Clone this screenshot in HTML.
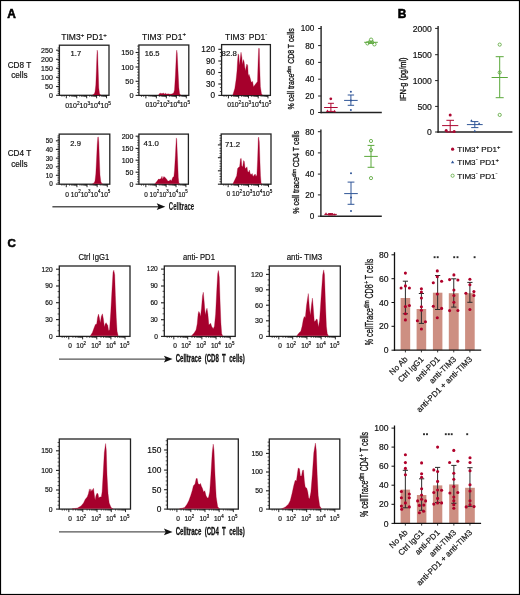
<!DOCTYPE html>
<html><head><meta charset="utf-8"><style>
html,body{margin:0;padding:0;background:#fff;}
svg{display:block;font-family:"Liberation Sans", sans-serif;will-change:transform;}
text{stroke:#111;stroke-width:0.18px;}
</style></head><body>
<svg width="520" height="595" viewBox="0 0 520 595">
<rect width="520" height="595" fill="#fff"/>
<rect x="0.5" y="0.5" width="519" height="594" fill="none" stroke="#000" stroke-width="1.2"/>
<text x="7.30" y="17.50" font-size="11.9" text-anchor="start" font-weight="bold" fill="#000" style="stroke:#000;stroke-width:0.55px">A</text>
<text x="397.80" y="17.90" font-size="11.9" text-anchor="start" font-weight="bold" fill="#000" style="stroke:#000;stroke-width:0.55px">B</text>
<text x="7.40" y="247.30" font-size="11.5" text-anchor="start" font-weight="bold" fill="#000" style="stroke:#000;stroke-width:0.55px">C</text>
<text x="84.00" y="40.00" font-size="8.5" text-anchor="middle" fill="#111">TIM3<tspan font-size="6.12" dy="-3.40">+</tspan><tspan dy="3.40"> PD1</tspan><tspan font-size="6.12" dy="-3.40">+</tspan></text>
<text x="164.00" y="39.80" font-size="8.5" text-anchor="middle" fill="#111">TIM3<tspan font-size="6.12" dy="-4.25">-</tspan><tspan dy="4.25"> PD1</tspan><tspan font-size="6.12" dy="-3.40">+</tspan></text>
<text x="246.20" y="39.80" font-size="8.5" text-anchor="middle" fill="#111">TIM3<tspan font-size="6.12" dy="-4.25">-</tspan><tspan dy="4.25"> PD1</tspan><tspan font-size="6.12" dy="-4.25">-</tspan></text>
<text x="19.40" y="67.80" font-size="8.2" text-anchor="middle" font-weight="normal" fill="#111" >CD8 T</text>
<text x="19.40" y="77.90" font-size="8.2" text-anchor="middle" font-weight="normal" fill="#111" >cells</text>
<text x="19.40" y="156.30" font-size="8.2" text-anchor="middle" font-weight="normal" fill="#111" >CD4 T</text>
<text x="19.40" y="166.50" font-size="8.2" text-anchor="middle" font-weight="normal" fill="#111" >cells</text>
<line x1="56.10" y1="50.20" x2="59.40" y2="50.20" stroke="#222" stroke-width="1.1"/>
<text x="52.80" y="52.72" font-size="7.0" text-anchor="end" font-weight="normal" fill="#111" >250</text>
<line x1="56.10" y1="59.30" x2="59.40" y2="59.30" stroke="#222" stroke-width="1.1"/>
<text x="52.80" y="61.82" font-size="7.0" text-anchor="end" font-weight="normal" fill="#111" >200</text>
<line x1="56.10" y1="68.30" x2="59.40" y2="68.30" stroke="#222" stroke-width="1.1"/>
<text x="52.80" y="70.82" font-size="7.0" text-anchor="end" font-weight="normal" fill="#111" >150</text>
<line x1="56.10" y1="77.30" x2="59.40" y2="77.30" stroke="#222" stroke-width="1.1"/>
<text x="52.80" y="79.82" font-size="7.0" text-anchor="end" font-weight="normal" fill="#111" >100</text>
<line x1="56.10" y1="86.50" x2="59.40" y2="86.50" stroke="#222" stroke-width="1.1"/>
<text x="52.80" y="89.02" font-size="7.0" text-anchor="end" font-weight="normal" fill="#111" >50</text>
<line x1="56.10" y1="95.30" x2="59.40" y2="95.30" stroke="#222" stroke-width="1.1"/>
<text x="52.80" y="97.82" font-size="7.0" text-anchor="end" font-weight="normal" fill="#111" >0</text>
<line x1="57.70" y1="93.48" x2="59.40" y2="93.48" stroke="#222" stroke-width="0.8"/>
<line x1="57.70" y1="91.66" x2="59.40" y2="91.66" stroke="#222" stroke-width="0.8"/>
<line x1="57.70" y1="89.84" x2="59.40" y2="89.84" stroke="#222" stroke-width="0.8"/>
<line x1="57.70" y1="88.02" x2="59.40" y2="88.02" stroke="#222" stroke-width="0.8"/>
<line x1="57.70" y1="84.38" x2="59.40" y2="84.38" stroke="#222" stroke-width="0.8"/>
<line x1="57.70" y1="82.56" x2="59.40" y2="82.56" stroke="#222" stroke-width="0.8"/>
<line x1="57.70" y1="80.74" x2="59.40" y2="80.74" stroke="#222" stroke-width="0.8"/>
<line x1="57.70" y1="78.92" x2="59.40" y2="78.92" stroke="#222" stroke-width="0.8"/>
<line x1="57.70" y1="75.28" x2="59.40" y2="75.28" stroke="#222" stroke-width="0.8"/>
<line x1="57.70" y1="73.46" x2="59.40" y2="73.46" stroke="#222" stroke-width="0.8"/>
<line x1="57.70" y1="71.64" x2="59.40" y2="71.64" stroke="#222" stroke-width="0.8"/>
<line x1="57.70" y1="69.82" x2="59.40" y2="69.82" stroke="#222" stroke-width="0.8"/>
<line x1="57.70" y1="66.18" x2="59.40" y2="66.18" stroke="#222" stroke-width="0.8"/>
<line x1="57.70" y1="64.36" x2="59.40" y2="64.36" stroke="#222" stroke-width="0.8"/>
<line x1="57.70" y1="62.54" x2="59.40" y2="62.54" stroke="#222" stroke-width="0.8"/>
<line x1="57.70" y1="60.72" x2="59.40" y2="60.72" stroke="#222" stroke-width="0.8"/>
<line x1="57.70" y1="57.08" x2="59.40" y2="57.08" stroke="#222" stroke-width="0.8"/>
<line x1="57.70" y1="55.26" x2="59.40" y2="55.26" stroke="#222" stroke-width="0.8"/>
<line x1="57.70" y1="53.44" x2="59.40" y2="53.44" stroke="#222" stroke-width="0.8"/>
<line x1="57.70" y1="51.62" x2="59.40" y2="51.62" stroke="#222" stroke-width="0.8"/>
<line x1="57.70" y1="47.98" x2="59.40" y2="47.98" stroke="#222" stroke-width="0.8"/>
<rect x="59.40" y="45.20" width="49.60" height="50.10" fill="none" stroke="#222" stroke-width="1.3"/>
<line x1="135.60" y1="52.50" x2="138.90" y2="52.50" stroke="#222" stroke-width="1.1"/>
<text x="133.60" y="55.16" font-size="7.4" text-anchor="end" font-weight="normal" fill="#111" >150</text>
<line x1="135.60" y1="67.00" x2="138.90" y2="67.00" stroke="#222" stroke-width="1.1"/>
<text x="133.60" y="69.66" font-size="7.4" text-anchor="end" font-weight="normal" fill="#111" >100</text>
<line x1="135.60" y1="81.30" x2="138.90" y2="81.30" stroke="#222" stroke-width="1.1"/>
<text x="133.60" y="83.96" font-size="7.4" text-anchor="end" font-weight="normal" fill="#111" >50</text>
<line x1="135.60" y1="95.40" x2="138.90" y2="95.40" stroke="#222" stroke-width="1.1"/>
<text x="133.60" y="98.06" font-size="7.4" text-anchor="end" font-weight="normal" fill="#111" >0</text>
<line x1="137.20" y1="92.50" x2="138.90" y2="92.50" stroke="#222" stroke-width="0.8"/>
<line x1="137.20" y1="89.60" x2="138.90" y2="89.60" stroke="#222" stroke-width="0.8"/>
<line x1="137.20" y1="86.70" x2="138.90" y2="86.70" stroke="#222" stroke-width="0.8"/>
<line x1="137.20" y1="83.80" x2="138.90" y2="83.80" stroke="#222" stroke-width="0.8"/>
<line x1="137.20" y1="78.00" x2="138.90" y2="78.00" stroke="#222" stroke-width="0.8"/>
<line x1="137.20" y1="75.10" x2="138.90" y2="75.10" stroke="#222" stroke-width="0.8"/>
<line x1="137.20" y1="72.20" x2="138.90" y2="72.20" stroke="#222" stroke-width="0.8"/>
<line x1="137.20" y1="69.30" x2="138.90" y2="69.30" stroke="#222" stroke-width="0.8"/>
<line x1="137.20" y1="63.50" x2="138.90" y2="63.50" stroke="#222" stroke-width="0.8"/>
<line x1="137.20" y1="60.60" x2="138.90" y2="60.60" stroke="#222" stroke-width="0.8"/>
<line x1="137.20" y1="57.70" x2="138.90" y2="57.70" stroke="#222" stroke-width="0.8"/>
<line x1="137.20" y1="54.80" x2="138.90" y2="54.80" stroke="#222" stroke-width="0.8"/>
<line x1="137.20" y1="49.00" x2="138.90" y2="49.00" stroke="#222" stroke-width="0.8"/>
<line x1="137.20" y1="46.10" x2="138.90" y2="46.10" stroke="#222" stroke-width="0.8"/>
<rect x="138.90" y="45.00" width="49.90" height="50.40" fill="none" stroke="#222" stroke-width="1.3"/>
<line x1="218.30" y1="49.30" x2="221.60" y2="49.30" stroke="#222" stroke-width="1.1"/>
<text x="215.00" y="52.25" font-size="8.2" text-anchor="end" font-weight="normal" fill="#111" >120</text>
<line x1="218.30" y1="61.00" x2="221.60" y2="61.00" stroke="#222" stroke-width="1.1"/>
<text x="215.00" y="63.95" font-size="8.2" text-anchor="end" font-weight="normal" fill="#111" >90</text>
<line x1="218.30" y1="72.50" x2="221.60" y2="72.50" stroke="#222" stroke-width="1.1"/>
<text x="215.00" y="75.45" font-size="8.2" text-anchor="end" font-weight="normal" fill="#111" >60</text>
<line x1="218.30" y1="84.00" x2="221.60" y2="84.00" stroke="#222" stroke-width="1.1"/>
<text x="215.00" y="86.95" font-size="8.2" text-anchor="end" font-weight="normal" fill="#111" >30</text>
<line x1="218.30" y1="95.40" x2="221.60" y2="95.40" stroke="#222" stroke-width="1.1"/>
<text x="215.00" y="98.35" font-size="8.2" text-anchor="end" font-weight="normal" fill="#111" >0</text>
<line x1="219.90" y1="91.50" x2="221.60" y2="91.50" stroke="#222" stroke-width="0.8"/>
<line x1="219.90" y1="87.60" x2="221.60" y2="87.60" stroke="#222" stroke-width="0.8"/>
<line x1="219.90" y1="79.80" x2="221.60" y2="79.80" stroke="#222" stroke-width="0.8"/>
<line x1="219.90" y1="75.90" x2="221.60" y2="75.90" stroke="#222" stroke-width="0.8"/>
<line x1="219.90" y1="68.10" x2="221.60" y2="68.10" stroke="#222" stroke-width="0.8"/>
<line x1="219.90" y1="64.20" x2="221.60" y2="64.20" stroke="#222" stroke-width="0.8"/>
<line x1="219.90" y1="56.40" x2="221.60" y2="56.40" stroke="#222" stroke-width="0.8"/>
<line x1="219.90" y1="52.50" x2="221.60" y2="52.50" stroke="#222" stroke-width="0.8"/>
<rect x="221.60" y="44.60" width="48.80" height="50.80" fill="none" stroke="#222" stroke-width="1.3"/>
<line x1="55.90" y1="140.80" x2="59.20" y2="140.80" stroke="#222" stroke-width="1.1"/>
<text x="52.80" y="143.10" font-size="6.4" text-anchor="end" font-weight="normal" fill="#111" >50</text>
<line x1="55.90" y1="149.40" x2="59.20" y2="149.40" stroke="#222" stroke-width="1.1"/>
<text x="52.80" y="151.70" font-size="6.4" text-anchor="end" font-weight="normal" fill="#111" >40</text>
<line x1="55.90" y1="158.20" x2="59.20" y2="158.20" stroke="#222" stroke-width="1.1"/>
<text x="52.80" y="160.50" font-size="6.4" text-anchor="end" font-weight="normal" fill="#111" >30</text>
<line x1="55.90" y1="166.80" x2="59.20" y2="166.80" stroke="#222" stroke-width="1.1"/>
<text x="52.80" y="169.10" font-size="6.4" text-anchor="end" font-weight="normal" fill="#111" >20</text>
<line x1="55.90" y1="175.30" x2="59.20" y2="175.30" stroke="#222" stroke-width="1.1"/>
<text x="52.80" y="177.60" font-size="6.4" text-anchor="end" font-weight="normal" fill="#111" >10</text>
<line x1="55.90" y1="184.10" x2="59.20" y2="184.10" stroke="#222" stroke-width="1.1"/>
<text x="52.80" y="186.40" font-size="6.4" text-anchor="end" font-weight="normal" fill="#111" >0</text>
<line x1="57.50" y1="182.38" x2="59.20" y2="182.38" stroke="#222" stroke-width="0.8"/>
<line x1="57.50" y1="180.66" x2="59.20" y2="180.66" stroke="#222" stroke-width="0.8"/>
<line x1="57.50" y1="178.94" x2="59.20" y2="178.94" stroke="#222" stroke-width="0.8"/>
<line x1="57.50" y1="177.22" x2="59.20" y2="177.22" stroke="#222" stroke-width="0.8"/>
<line x1="57.50" y1="173.78" x2="59.20" y2="173.78" stroke="#222" stroke-width="0.8"/>
<line x1="57.50" y1="172.06" x2="59.20" y2="172.06" stroke="#222" stroke-width="0.8"/>
<line x1="57.50" y1="170.34" x2="59.20" y2="170.34" stroke="#222" stroke-width="0.8"/>
<line x1="57.50" y1="168.62" x2="59.20" y2="168.62" stroke="#222" stroke-width="0.8"/>
<line x1="57.50" y1="165.18" x2="59.20" y2="165.18" stroke="#222" stroke-width="0.8"/>
<line x1="57.50" y1="163.46" x2="59.20" y2="163.46" stroke="#222" stroke-width="0.8"/>
<line x1="57.50" y1="161.74" x2="59.20" y2="161.74" stroke="#222" stroke-width="0.8"/>
<line x1="57.50" y1="160.02" x2="59.20" y2="160.02" stroke="#222" stroke-width="0.8"/>
<line x1="57.50" y1="156.58" x2="59.20" y2="156.58" stroke="#222" stroke-width="0.8"/>
<line x1="57.50" y1="154.86" x2="59.20" y2="154.86" stroke="#222" stroke-width="0.8"/>
<line x1="57.50" y1="153.14" x2="59.20" y2="153.14" stroke="#222" stroke-width="0.8"/>
<line x1="57.50" y1="151.42" x2="59.20" y2="151.42" stroke="#222" stroke-width="0.8"/>
<line x1="57.50" y1="147.98" x2="59.20" y2="147.98" stroke="#222" stroke-width="0.8"/>
<line x1="57.50" y1="146.26" x2="59.20" y2="146.26" stroke="#222" stroke-width="0.8"/>
<line x1="57.50" y1="144.54" x2="59.20" y2="144.54" stroke="#222" stroke-width="0.8"/>
<line x1="57.50" y1="142.82" x2="59.20" y2="142.82" stroke="#222" stroke-width="0.8"/>
<line x1="57.50" y1="139.38" x2="59.20" y2="139.38" stroke="#222" stroke-width="0.8"/>
<line x1="57.50" y1="137.66" x2="59.20" y2="137.66" stroke="#222" stroke-width="0.8"/>
<line x1="57.50" y1="135.94" x2="59.20" y2="135.94" stroke="#222" stroke-width="0.8"/>
<rect x="59.20" y="134.10" width="50.60" height="50.10" fill="none" stroke="#222" stroke-width="1.3"/>
<line x1="135.60" y1="136.20" x2="138.90" y2="136.20" stroke="#222" stroke-width="1.1"/>
<text x="133.40" y="138.72" font-size="7.0" text-anchor="end" font-weight="normal" fill="#111" >200</text>
<line x1="135.60" y1="148.40" x2="138.90" y2="148.40" stroke="#222" stroke-width="1.1"/>
<text x="133.40" y="150.92" font-size="7.0" text-anchor="end" font-weight="normal" fill="#111" >150</text>
<line x1="135.60" y1="160.20" x2="138.90" y2="160.20" stroke="#222" stroke-width="1.1"/>
<text x="133.40" y="162.72" font-size="7.0" text-anchor="end" font-weight="normal" fill="#111" >100</text>
<line x1="135.60" y1="172.20" x2="138.90" y2="172.20" stroke="#222" stroke-width="1.1"/>
<text x="133.40" y="174.72" font-size="7.0" text-anchor="end" font-weight="normal" fill="#111" >50</text>
<line x1="135.60" y1="184.20" x2="138.90" y2="184.20" stroke="#222" stroke-width="1.1"/>
<text x="133.40" y="186.72" font-size="7.0" text-anchor="end" font-weight="normal" fill="#111" >0</text>
<line x1="137.20" y1="181.76" x2="138.90" y2="181.76" stroke="#222" stroke-width="0.8"/>
<line x1="137.20" y1="179.32" x2="138.90" y2="179.32" stroke="#222" stroke-width="0.8"/>
<line x1="137.20" y1="176.88" x2="138.90" y2="176.88" stroke="#222" stroke-width="0.8"/>
<line x1="137.20" y1="174.44" x2="138.90" y2="174.44" stroke="#222" stroke-width="0.8"/>
<line x1="137.20" y1="169.56" x2="138.90" y2="169.56" stroke="#222" stroke-width="0.8"/>
<line x1="137.20" y1="167.12" x2="138.90" y2="167.12" stroke="#222" stroke-width="0.8"/>
<line x1="137.20" y1="164.68" x2="138.90" y2="164.68" stroke="#222" stroke-width="0.8"/>
<line x1="137.20" y1="162.24" x2="138.90" y2="162.24" stroke="#222" stroke-width="0.8"/>
<line x1="137.20" y1="157.36" x2="138.90" y2="157.36" stroke="#222" stroke-width="0.8"/>
<line x1="137.20" y1="154.92" x2="138.90" y2="154.92" stroke="#222" stroke-width="0.8"/>
<line x1="137.20" y1="152.48" x2="138.90" y2="152.48" stroke="#222" stroke-width="0.8"/>
<line x1="137.20" y1="150.04" x2="138.90" y2="150.04" stroke="#222" stroke-width="0.8"/>
<line x1="137.20" y1="145.16" x2="138.90" y2="145.16" stroke="#222" stroke-width="0.8"/>
<line x1="137.20" y1="142.72" x2="138.90" y2="142.72" stroke="#222" stroke-width="0.8"/>
<line x1="137.20" y1="140.28" x2="138.90" y2="140.28" stroke="#222" stroke-width="0.8"/>
<line x1="137.20" y1="137.84" x2="138.90" y2="137.84" stroke="#222" stroke-width="0.8"/>
<rect x="138.90" y="134.10" width="49.50" height="50.10" fill="none" stroke="#222" stroke-width="1.3"/>
<line x1="217.90" y1="144.90" x2="221.20" y2="144.90" stroke="#222" stroke-width="1.1"/>
<line x1="217.90" y1="157.70" x2="221.20" y2="157.70" stroke="#222" stroke-width="1.1"/>
<line x1="217.90" y1="170.80" x2="221.20" y2="170.80" stroke="#222" stroke-width="1.1"/>
<line x1="217.90" y1="184.20" x2="221.20" y2="184.20" stroke="#222" stroke-width="1.1"/>
<line x1="219.50" y1="181.64" x2="221.20" y2="181.64" stroke="#222" stroke-width="0.8"/>
<line x1="219.50" y1="179.08" x2="221.20" y2="179.08" stroke="#222" stroke-width="0.8"/>
<line x1="219.50" y1="176.52" x2="221.20" y2="176.52" stroke="#222" stroke-width="0.8"/>
<line x1="219.50" y1="173.96" x2="221.20" y2="173.96" stroke="#222" stroke-width="0.8"/>
<line x1="219.50" y1="168.84" x2="221.20" y2="168.84" stroke="#222" stroke-width="0.8"/>
<line x1="219.50" y1="166.28" x2="221.20" y2="166.28" stroke="#222" stroke-width="0.8"/>
<line x1="219.50" y1="163.72" x2="221.20" y2="163.72" stroke="#222" stroke-width="0.8"/>
<line x1="219.50" y1="161.16" x2="221.20" y2="161.16" stroke="#222" stroke-width="0.8"/>
<line x1="219.50" y1="156.04" x2="221.20" y2="156.04" stroke="#222" stroke-width="0.8"/>
<line x1="219.50" y1="153.48" x2="221.20" y2="153.48" stroke="#222" stroke-width="0.8"/>
<line x1="219.50" y1="150.92" x2="221.20" y2="150.92" stroke="#222" stroke-width="0.8"/>
<line x1="219.50" y1="148.36" x2="221.20" y2="148.36" stroke="#222" stroke-width="0.8"/>
<line x1="219.50" y1="143.24" x2="221.20" y2="143.24" stroke="#222" stroke-width="0.8"/>
<line x1="219.50" y1="140.68" x2="221.20" y2="140.68" stroke="#222" stroke-width="0.8"/>
<line x1="219.50" y1="138.12" x2="221.20" y2="138.12" stroke="#222" stroke-width="0.8"/>
<line x1="219.50" y1="135.56" x2="221.20" y2="135.56" stroke="#222" stroke-width="0.8"/>
<rect x="221.20" y="134.00" width="49.80" height="50.20" fill="none" stroke="#222" stroke-width="1.3"/>
<path d="M92.50,95.00 L92.50,95.00 L94.00,94.20 L95.00,92.00 L95.80,85.00 L96.40,70.00 L96.90,55.00 L97.20,50.10 L97.60,52.00 L98.20,70.00 L98.80,88.00 L99.50,93.50 L100.50,95.00 L100.50,95.00 Z" fill="#a6002c" stroke="#a6002c" stroke-width="0.3" stroke-linejoin="round"/>
<path d="M158.50,95.00 L158.50,95.20 L159.50,93.60 L160.80,93.20 L162.00,93.80 L163.20,93.00 L164.50,93.90 L165.50,93.30 L166.80,94.20 L168.00,93.80 L170.00,94.20 L171.50,94.00 L173.00,93.60 L173.80,92.50 L174.50,90.00 L175.40,75.00 L176.30,55.00 L176.70,50.10 L177.20,53.00 L178.00,70.00 L178.90,88.00 L179.60,93.50 L180.60,95.20 L180.60,95.00 Z" fill="#a6002c" stroke="#a6002c" stroke-width="0.3" stroke-linejoin="round"/>
<path d="M232.80,95.00 L232.80,95.00 L234.80,88.50 L236.10,79.60 L237.00,70.70 L237.50,61.80 L238.20,53.80 L238.80,55.60 L239.40,65.40 L241.00,52.20 L241.90,57.40 L242.40,64.50 L243.40,59.60 L244.10,61.80 L245.30,70.70 L246.80,64.00 L247.70,65.40 L248.30,76.10 L249.00,74.30 L250.10,77.80 L251.30,82.30 L252.60,81.40 L253.50,86.70 L254.80,85.00 L256.60,82.70 L257.50,81.40 L258.10,61.80 L258.70,48.30 L259.30,48.50 L259.70,66.30 L260.40,86.70 L261.50,93.90 L262.40,95.00 L262.40,95.00 Z" fill="#a6002c" stroke="#a6002c" stroke-width="0.3" stroke-linejoin="round"/>
<path d="M92.50,183.80 L92.50,183.90 L94.00,183.00 L95.00,181.00 L95.80,174.00 L96.50,160.00 L97.20,145.00 L97.80,137.20 L98.30,136.90 L98.80,142.00 L99.40,160.00 L100.00,175.00 L100.80,181.50 L101.60,183.20 L102.50,183.90 L102.50,183.80 Z" fill="#a6002c" stroke="#a6002c" stroke-width="0.3" stroke-linejoin="round"/>
<path d="M154.90,183.80 L154.90,183.80 L157.10,181.10 L158.50,179.10 L159.80,179.30 L161.10,178.40 L162.00,176.20 L162.60,179.30 L163.80,176.60 L165.10,177.50 L166.50,178.90 L167.80,181.10 L169.10,181.10 L170.30,179.70 L171.40,181.10 L172.70,177.50 L173.90,176.60 L174.50,170.40 L175.40,155.30 L176.30,137.90 L176.70,139.20 L177.60,159.70 L178.30,177.50 L178.90,182.90 L179.80,183.80 L179.80,183.80 Z" fill="#a6002c" stroke="#a6002c" stroke-width="0.3" stroke-linejoin="round"/>
<path d="M232.90,183.80 L232.90,183.80 L235.10,179.30 L236.70,175.70 L237.60,168.60 L238.70,167.30 L239.60,166.80 L240.50,158.80 L241.20,158.40 L241.80,166.00 L242.70,166.80 L243.60,160.60 L244.30,161.50 L245.10,168.60 L246.30,167.70 L247.00,166.80 L247.60,171.30 L248.70,172.20 L249.40,170.00 L250.30,174.00 L251.30,174.40 L252.20,173.50 L253.10,176.60 L254.30,174.90 L255.20,174.00 L256.00,176.60 L256.90,174.90 L257.60,159.70 L258.30,138.30 L258.70,137.00 L259.30,141.90 L259.90,159.70 L260.50,175.70 L261.10,182.90 L261.80,183.80 L261.80,183.80 Z" fill="#a6002c" stroke="#a6002c" stroke-width="0.3" stroke-linejoin="round"/>
<text x="70.60" y="56.20" font-size="7.6" text-anchor="start" font-weight="normal" fill="#111" >1.7</text>
<text x="144.80" y="55.60" font-size="7.6" text-anchor="start" font-weight="normal" fill="#111" >16.5</text>
<text x="221.60" y="55.80" font-size="7.8" text-anchor="start" font-weight="normal" fill="#111" >82.8</text>
<text x="70.30" y="145.50" font-size="7.6" text-anchor="start" font-weight="normal" fill="#111" >2.9</text>
<text x="143.60" y="146.00" font-size="7.8" text-anchor="start" font-weight="normal" fill="#111" >41.0</text>
<text x="225.00" y="147.40" font-size="7.8" text-anchor="start" font-weight="normal" fill="#111" >71.2</text>
<line x1="66.34" y1="95.30" x2="66.34" y2="98.30" stroke="#111" stroke-width="0.9"/>
<line x1="76.76" y1="95.30" x2="76.76" y2="98.30" stroke="#111" stroke-width="0.9"/>
<line x1="86.68" y1="95.30" x2="86.68" y2="98.30" stroke="#111" stroke-width="0.9"/>
<line x1="96.60" y1="95.30" x2="96.60" y2="98.30" stroke="#111" stroke-width="0.9"/>
<line x1="106.52" y1="95.30" x2="106.52" y2="98.30" stroke="#111" stroke-width="0.9"/>
<line x1="69.48" y1="95.30" x2="69.48" y2="96.90" stroke="#111" stroke-width="0.6"/>
<line x1="71.31" y1="95.30" x2="71.31" y2="96.90" stroke="#111" stroke-width="0.6"/>
<line x1="72.62" y1="95.30" x2="72.62" y2="96.90" stroke="#111" stroke-width="0.6"/>
<line x1="73.62" y1="95.30" x2="73.62" y2="96.90" stroke="#111" stroke-width="0.6"/>
<line x1="74.45" y1="95.30" x2="74.45" y2="96.90" stroke="#111" stroke-width="0.6"/>
<line x1="75.15" y1="95.30" x2="75.15" y2="96.90" stroke="#111" stroke-width="0.6"/>
<line x1="75.75" y1="95.30" x2="75.75" y2="96.90" stroke="#111" stroke-width="0.6"/>
<line x1="76.28" y1="95.30" x2="76.28" y2="96.90" stroke="#111" stroke-width="0.6"/>
<line x1="79.75" y1="95.30" x2="79.75" y2="96.90" stroke="#111" stroke-width="0.6"/>
<line x1="81.49" y1="95.30" x2="81.49" y2="96.90" stroke="#111" stroke-width="0.6"/>
<line x1="82.73" y1="95.30" x2="82.73" y2="96.90" stroke="#111" stroke-width="0.6"/>
<line x1="83.69" y1="95.30" x2="83.69" y2="96.90" stroke="#111" stroke-width="0.6"/>
<line x1="84.48" y1="95.30" x2="84.48" y2="96.90" stroke="#111" stroke-width="0.6"/>
<line x1="85.14" y1="95.30" x2="85.14" y2="96.90" stroke="#111" stroke-width="0.6"/>
<line x1="85.72" y1="95.30" x2="85.72" y2="96.90" stroke="#111" stroke-width="0.6"/>
<line x1="86.23" y1="95.30" x2="86.23" y2="96.90" stroke="#111" stroke-width="0.6"/>
<line x1="89.67" y1="95.30" x2="89.67" y2="96.90" stroke="#111" stroke-width="0.6"/>
<line x1="91.41" y1="95.30" x2="91.41" y2="96.90" stroke="#111" stroke-width="0.6"/>
<line x1="92.65" y1="95.30" x2="92.65" y2="96.90" stroke="#111" stroke-width="0.6"/>
<line x1="93.61" y1="95.30" x2="93.61" y2="96.90" stroke="#111" stroke-width="0.6"/>
<line x1="94.40" y1="95.30" x2="94.40" y2="96.90" stroke="#111" stroke-width="0.6"/>
<line x1="95.06" y1="95.30" x2="95.06" y2="96.90" stroke="#111" stroke-width="0.6"/>
<line x1="95.64" y1="95.30" x2="95.64" y2="96.90" stroke="#111" stroke-width="0.6"/>
<line x1="96.15" y1="95.30" x2="96.15" y2="96.90" stroke="#111" stroke-width="0.6"/>
<line x1="99.59" y1="95.30" x2="99.59" y2="96.90" stroke="#111" stroke-width="0.6"/>
<line x1="101.33" y1="95.30" x2="101.33" y2="96.90" stroke="#111" stroke-width="0.6"/>
<line x1="102.57" y1="95.30" x2="102.57" y2="96.90" stroke="#111" stroke-width="0.6"/>
<line x1="103.53" y1="95.30" x2="103.53" y2="96.90" stroke="#111" stroke-width="0.6"/>
<line x1="104.32" y1="95.30" x2="104.32" y2="96.90" stroke="#111" stroke-width="0.6"/>
<line x1="104.98" y1="95.30" x2="104.98" y2="96.90" stroke="#111" stroke-width="0.6"/>
<line x1="105.56" y1="95.30" x2="105.56" y2="96.90" stroke="#111" stroke-width="0.6"/>
<line x1="106.07" y1="95.30" x2="106.07" y2="96.90" stroke="#111" stroke-width="0.6"/>
<line x1="64.14" y1="95.30" x2="64.14" y2="96.90" stroke="#111" stroke-width="0.6"/>
<line x1="61.94" y1="95.30" x2="61.94" y2="96.90" stroke="#111" stroke-width="0.6"/>
<line x1="145.89" y1="95.40" x2="145.89" y2="98.40" stroke="#111" stroke-width="0.9"/>
<line x1="156.37" y1="95.40" x2="156.37" y2="98.40" stroke="#111" stroke-width="0.9"/>
<line x1="166.34" y1="95.40" x2="166.34" y2="98.40" stroke="#111" stroke-width="0.9"/>
<line x1="176.33" y1="95.40" x2="176.33" y2="98.40" stroke="#111" stroke-width="0.9"/>
<line x1="186.31" y1="95.40" x2="186.31" y2="98.40" stroke="#111" stroke-width="0.9"/>
<line x1="149.04" y1="95.40" x2="149.04" y2="97.00" stroke="#111" stroke-width="0.6"/>
<line x1="150.89" y1="95.40" x2="150.89" y2="97.00" stroke="#111" stroke-width="0.6"/>
<line x1="152.19" y1="95.40" x2="152.19" y2="97.00" stroke="#111" stroke-width="0.6"/>
<line x1="153.21" y1="95.40" x2="153.21" y2="97.00" stroke="#111" stroke-width="0.6"/>
<line x1="154.04" y1="95.40" x2="154.04" y2="97.00" stroke="#111" stroke-width="0.6"/>
<line x1="154.74" y1="95.40" x2="154.74" y2="97.00" stroke="#111" stroke-width="0.6"/>
<line x1="155.35" y1="95.40" x2="155.35" y2="97.00" stroke="#111" stroke-width="0.6"/>
<line x1="155.89" y1="95.40" x2="155.89" y2="97.00" stroke="#111" stroke-width="0.6"/>
<line x1="159.37" y1="95.40" x2="159.37" y2="97.00" stroke="#111" stroke-width="0.6"/>
<line x1="161.13" y1="95.40" x2="161.13" y2="97.00" stroke="#111" stroke-width="0.6"/>
<line x1="162.37" y1="95.40" x2="162.37" y2="97.00" stroke="#111" stroke-width="0.6"/>
<line x1="163.34" y1="95.40" x2="163.34" y2="97.00" stroke="#111" stroke-width="0.6"/>
<line x1="164.13" y1="95.40" x2="164.13" y2="97.00" stroke="#111" stroke-width="0.6"/>
<line x1="164.80" y1="95.40" x2="164.80" y2="97.00" stroke="#111" stroke-width="0.6"/>
<line x1="165.38" y1="95.40" x2="165.38" y2="97.00" stroke="#111" stroke-width="0.6"/>
<line x1="165.89" y1="95.40" x2="165.89" y2="97.00" stroke="#111" stroke-width="0.6"/>
<line x1="169.35" y1="95.40" x2="169.35" y2="97.00" stroke="#111" stroke-width="0.6"/>
<line x1="171.11" y1="95.40" x2="171.11" y2="97.00" stroke="#111" stroke-width="0.6"/>
<line x1="172.35" y1="95.40" x2="172.35" y2="97.00" stroke="#111" stroke-width="0.6"/>
<line x1="173.32" y1="95.40" x2="173.32" y2="97.00" stroke="#111" stroke-width="0.6"/>
<line x1="174.11" y1="95.40" x2="174.11" y2="97.00" stroke="#111" stroke-width="0.6"/>
<line x1="174.78" y1="95.40" x2="174.78" y2="97.00" stroke="#111" stroke-width="0.6"/>
<line x1="175.36" y1="95.40" x2="175.36" y2="97.00" stroke="#111" stroke-width="0.6"/>
<line x1="175.87" y1="95.40" x2="175.87" y2="97.00" stroke="#111" stroke-width="0.6"/>
<line x1="179.33" y1="95.40" x2="179.33" y2="97.00" stroke="#111" stroke-width="0.6"/>
<line x1="181.09" y1="95.40" x2="181.09" y2="97.00" stroke="#111" stroke-width="0.6"/>
<line x1="182.33" y1="95.40" x2="182.33" y2="97.00" stroke="#111" stroke-width="0.6"/>
<line x1="183.30" y1="95.40" x2="183.30" y2="97.00" stroke="#111" stroke-width="0.6"/>
<line x1="184.09" y1="95.40" x2="184.09" y2="97.00" stroke="#111" stroke-width="0.6"/>
<line x1="184.76" y1="95.40" x2="184.76" y2="97.00" stroke="#111" stroke-width="0.6"/>
<line x1="185.34" y1="95.40" x2="185.34" y2="97.00" stroke="#111" stroke-width="0.6"/>
<line x1="185.85" y1="95.40" x2="185.85" y2="97.00" stroke="#111" stroke-width="0.6"/>
<line x1="143.69" y1="95.40" x2="143.69" y2="97.00" stroke="#111" stroke-width="0.6"/>
<line x1="141.49" y1="95.40" x2="141.49" y2="97.00" stroke="#111" stroke-width="0.6"/>
<line x1="228.43" y1="95.40" x2="228.43" y2="98.40" stroke="#111" stroke-width="0.9"/>
<line x1="238.68" y1="95.40" x2="238.68" y2="98.40" stroke="#111" stroke-width="0.9"/>
<line x1="248.44" y1="95.40" x2="248.44" y2="98.40" stroke="#111" stroke-width="0.9"/>
<line x1="258.20" y1="95.40" x2="258.20" y2="98.40" stroke="#111" stroke-width="0.9"/>
<line x1="267.96" y1="95.40" x2="267.96" y2="98.40" stroke="#111" stroke-width="0.9"/>
<line x1="231.52" y1="95.40" x2="231.52" y2="97.00" stroke="#111" stroke-width="0.6"/>
<line x1="233.32" y1="95.40" x2="233.32" y2="97.00" stroke="#111" stroke-width="0.6"/>
<line x1="234.60" y1="95.40" x2="234.60" y2="97.00" stroke="#111" stroke-width="0.6"/>
<line x1="235.60" y1="95.40" x2="235.60" y2="97.00" stroke="#111" stroke-width="0.6"/>
<line x1="236.41" y1="95.40" x2="236.41" y2="97.00" stroke="#111" stroke-width="0.6"/>
<line x1="237.09" y1="95.40" x2="237.09" y2="97.00" stroke="#111" stroke-width="0.6"/>
<line x1="237.69" y1="95.40" x2="237.69" y2="97.00" stroke="#111" stroke-width="0.6"/>
<line x1="238.21" y1="95.40" x2="238.21" y2="97.00" stroke="#111" stroke-width="0.6"/>
<line x1="241.62" y1="95.40" x2="241.62" y2="97.00" stroke="#111" stroke-width="0.6"/>
<line x1="243.34" y1="95.40" x2="243.34" y2="97.00" stroke="#111" stroke-width="0.6"/>
<line x1="244.56" y1="95.40" x2="244.56" y2="97.00" stroke="#111" stroke-width="0.6"/>
<line x1="245.50" y1="95.40" x2="245.50" y2="97.00" stroke="#111" stroke-width="0.6"/>
<line x1="246.27" y1="95.40" x2="246.27" y2="97.00" stroke="#111" stroke-width="0.6"/>
<line x1="246.93" y1="95.40" x2="246.93" y2="97.00" stroke="#111" stroke-width="0.6"/>
<line x1="247.49" y1="95.40" x2="247.49" y2="97.00" stroke="#111" stroke-width="0.6"/>
<line x1="247.99" y1="95.40" x2="247.99" y2="97.00" stroke="#111" stroke-width="0.6"/>
<line x1="251.38" y1="95.40" x2="251.38" y2="97.00" stroke="#111" stroke-width="0.6"/>
<line x1="253.10" y1="95.40" x2="253.10" y2="97.00" stroke="#111" stroke-width="0.6"/>
<line x1="254.32" y1="95.40" x2="254.32" y2="97.00" stroke="#111" stroke-width="0.6"/>
<line x1="255.26" y1="95.40" x2="255.26" y2="97.00" stroke="#111" stroke-width="0.6"/>
<line x1="256.03" y1="95.40" x2="256.03" y2="97.00" stroke="#111" stroke-width="0.6"/>
<line x1="256.69" y1="95.40" x2="256.69" y2="97.00" stroke="#111" stroke-width="0.6"/>
<line x1="257.25" y1="95.40" x2="257.25" y2="97.00" stroke="#111" stroke-width="0.6"/>
<line x1="257.75" y1="95.40" x2="257.75" y2="97.00" stroke="#111" stroke-width="0.6"/>
<line x1="261.14" y1="95.40" x2="261.14" y2="97.00" stroke="#111" stroke-width="0.6"/>
<line x1="262.86" y1="95.40" x2="262.86" y2="97.00" stroke="#111" stroke-width="0.6"/>
<line x1="264.08" y1="95.40" x2="264.08" y2="97.00" stroke="#111" stroke-width="0.6"/>
<line x1="265.02" y1="95.40" x2="265.02" y2="97.00" stroke="#111" stroke-width="0.6"/>
<line x1="265.79" y1="95.40" x2="265.79" y2="97.00" stroke="#111" stroke-width="0.6"/>
<line x1="266.45" y1="95.40" x2="266.45" y2="97.00" stroke="#111" stroke-width="0.6"/>
<line x1="267.01" y1="95.40" x2="267.01" y2="97.00" stroke="#111" stroke-width="0.6"/>
<line x1="267.51" y1="95.40" x2="267.51" y2="97.00" stroke="#111" stroke-width="0.6"/>
<line x1="226.23" y1="95.40" x2="226.23" y2="97.00" stroke="#111" stroke-width="0.6"/>
<line x1="224.03" y1="95.40" x2="224.03" y2="97.00" stroke="#111" stroke-width="0.6"/>
<line x1="66.28" y1="184.20" x2="66.28" y2="187.20" stroke="#111" stroke-width="0.9"/>
<line x1="76.91" y1="184.20" x2="76.91" y2="187.20" stroke="#111" stroke-width="0.9"/>
<line x1="87.03" y1="184.20" x2="87.03" y2="187.20" stroke="#111" stroke-width="0.9"/>
<line x1="97.15" y1="184.20" x2="97.15" y2="187.20" stroke="#111" stroke-width="0.9"/>
<line x1="107.27" y1="184.20" x2="107.27" y2="187.20" stroke="#111" stroke-width="0.9"/>
<line x1="69.48" y1="184.20" x2="69.48" y2="185.80" stroke="#111" stroke-width="0.6"/>
<line x1="71.35" y1="184.20" x2="71.35" y2="185.80" stroke="#111" stroke-width="0.6"/>
<line x1="72.68" y1="184.20" x2="72.68" y2="185.80" stroke="#111" stroke-width="0.6"/>
<line x1="73.71" y1="184.20" x2="73.71" y2="185.80" stroke="#111" stroke-width="0.6"/>
<line x1="74.55" y1="184.20" x2="74.55" y2="185.80" stroke="#111" stroke-width="0.6"/>
<line x1="75.26" y1="184.20" x2="75.26" y2="185.80" stroke="#111" stroke-width="0.6"/>
<line x1="75.88" y1="184.20" x2="75.88" y2="185.80" stroke="#111" stroke-width="0.6"/>
<line x1="76.42" y1="184.20" x2="76.42" y2="185.80" stroke="#111" stroke-width="0.6"/>
<line x1="79.96" y1="184.20" x2="79.96" y2="185.80" stroke="#111" stroke-width="0.6"/>
<line x1="81.74" y1="184.20" x2="81.74" y2="185.80" stroke="#111" stroke-width="0.6"/>
<line x1="83.00" y1="184.20" x2="83.00" y2="185.80" stroke="#111" stroke-width="0.6"/>
<line x1="83.98" y1="184.20" x2="83.98" y2="185.80" stroke="#111" stroke-width="0.6"/>
<line x1="84.78" y1="184.20" x2="84.78" y2="185.80" stroke="#111" stroke-width="0.6"/>
<line x1="85.46" y1="184.20" x2="85.46" y2="185.80" stroke="#111" stroke-width="0.6"/>
<line x1="86.05" y1="184.20" x2="86.05" y2="185.80" stroke="#111" stroke-width="0.6"/>
<line x1="86.57" y1="184.20" x2="86.57" y2="185.80" stroke="#111" stroke-width="0.6"/>
<line x1="90.08" y1="184.20" x2="90.08" y2="185.80" stroke="#111" stroke-width="0.6"/>
<line x1="91.86" y1="184.20" x2="91.86" y2="185.80" stroke="#111" stroke-width="0.6"/>
<line x1="93.12" y1="184.20" x2="93.12" y2="185.80" stroke="#111" stroke-width="0.6"/>
<line x1="94.10" y1="184.20" x2="94.10" y2="185.80" stroke="#111" stroke-width="0.6"/>
<line x1="94.90" y1="184.20" x2="94.90" y2="185.80" stroke="#111" stroke-width="0.6"/>
<line x1="95.58" y1="184.20" x2="95.58" y2="185.80" stroke="#111" stroke-width="0.6"/>
<line x1="96.17" y1="184.20" x2="96.17" y2="185.80" stroke="#111" stroke-width="0.6"/>
<line x1="96.69" y1="184.20" x2="96.69" y2="185.80" stroke="#111" stroke-width="0.6"/>
<line x1="100.20" y1="184.20" x2="100.20" y2="185.80" stroke="#111" stroke-width="0.6"/>
<line x1="101.98" y1="184.20" x2="101.98" y2="185.80" stroke="#111" stroke-width="0.6"/>
<line x1="103.24" y1="184.20" x2="103.24" y2="185.80" stroke="#111" stroke-width="0.6"/>
<line x1="104.22" y1="184.20" x2="104.22" y2="185.80" stroke="#111" stroke-width="0.6"/>
<line x1="105.02" y1="184.20" x2="105.02" y2="185.80" stroke="#111" stroke-width="0.6"/>
<line x1="105.70" y1="184.20" x2="105.70" y2="185.80" stroke="#111" stroke-width="0.6"/>
<line x1="106.29" y1="184.20" x2="106.29" y2="185.80" stroke="#111" stroke-width="0.6"/>
<line x1="106.81" y1="184.20" x2="106.81" y2="185.80" stroke="#111" stroke-width="0.6"/>
<line x1="64.08" y1="184.20" x2="64.08" y2="185.80" stroke="#111" stroke-width="0.6"/>
<line x1="61.88" y1="184.20" x2="61.88" y2="185.80" stroke="#111" stroke-width="0.6"/>
<line x1="145.83" y1="184.20" x2="145.83" y2="187.20" stroke="#111" stroke-width="0.9"/>
<line x1="156.22" y1="184.20" x2="156.22" y2="187.20" stroke="#111" stroke-width="0.9"/>
<line x1="166.12" y1="184.20" x2="166.12" y2="187.20" stroke="#111" stroke-width="0.9"/>
<line x1="176.03" y1="184.20" x2="176.03" y2="187.20" stroke="#111" stroke-width="0.9"/>
<line x1="185.93" y1="184.20" x2="185.93" y2="187.20" stroke="#111" stroke-width="0.9"/>
<line x1="148.96" y1="184.20" x2="148.96" y2="185.80" stroke="#111" stroke-width="0.6"/>
<line x1="150.79" y1="184.20" x2="150.79" y2="185.80" stroke="#111" stroke-width="0.6"/>
<line x1="152.09" y1="184.20" x2="152.09" y2="185.80" stroke="#111" stroke-width="0.6"/>
<line x1="153.10" y1="184.20" x2="153.10" y2="185.80" stroke="#111" stroke-width="0.6"/>
<line x1="153.92" y1="184.20" x2="153.92" y2="185.80" stroke="#111" stroke-width="0.6"/>
<line x1="154.61" y1="184.20" x2="154.61" y2="185.80" stroke="#111" stroke-width="0.6"/>
<line x1="155.22" y1="184.20" x2="155.22" y2="185.80" stroke="#111" stroke-width="0.6"/>
<line x1="155.75" y1="184.20" x2="155.75" y2="185.80" stroke="#111" stroke-width="0.6"/>
<line x1="159.21" y1="184.20" x2="159.21" y2="185.80" stroke="#111" stroke-width="0.6"/>
<line x1="160.95" y1="184.20" x2="160.95" y2="185.80" stroke="#111" stroke-width="0.6"/>
<line x1="162.19" y1="184.20" x2="162.19" y2="185.80" stroke="#111" stroke-width="0.6"/>
<line x1="163.14" y1="184.20" x2="163.14" y2="185.80" stroke="#111" stroke-width="0.6"/>
<line x1="163.93" y1="184.20" x2="163.93" y2="185.80" stroke="#111" stroke-width="0.6"/>
<line x1="164.59" y1="184.20" x2="164.59" y2="185.80" stroke="#111" stroke-width="0.6"/>
<line x1="165.17" y1="184.20" x2="165.17" y2="185.80" stroke="#111" stroke-width="0.6"/>
<line x1="165.67" y1="184.20" x2="165.67" y2="185.80" stroke="#111" stroke-width="0.6"/>
<line x1="169.11" y1="184.20" x2="169.11" y2="185.80" stroke="#111" stroke-width="0.6"/>
<line x1="170.85" y1="184.20" x2="170.85" y2="185.80" stroke="#111" stroke-width="0.6"/>
<line x1="172.09" y1="184.20" x2="172.09" y2="185.80" stroke="#111" stroke-width="0.6"/>
<line x1="173.04" y1="184.20" x2="173.04" y2="185.80" stroke="#111" stroke-width="0.6"/>
<line x1="173.83" y1="184.20" x2="173.83" y2="185.80" stroke="#111" stroke-width="0.6"/>
<line x1="174.49" y1="184.20" x2="174.49" y2="185.80" stroke="#111" stroke-width="0.6"/>
<line x1="175.07" y1="184.20" x2="175.07" y2="185.80" stroke="#111" stroke-width="0.6"/>
<line x1="175.57" y1="184.20" x2="175.57" y2="185.80" stroke="#111" stroke-width="0.6"/>
<line x1="179.01" y1="184.20" x2="179.01" y2="185.80" stroke="#111" stroke-width="0.6"/>
<line x1="180.75" y1="184.20" x2="180.75" y2="185.80" stroke="#111" stroke-width="0.6"/>
<line x1="181.99" y1="184.20" x2="181.99" y2="185.80" stroke="#111" stroke-width="0.6"/>
<line x1="182.94" y1="184.20" x2="182.94" y2="185.80" stroke="#111" stroke-width="0.6"/>
<line x1="183.73" y1="184.20" x2="183.73" y2="185.80" stroke="#111" stroke-width="0.6"/>
<line x1="184.39" y1="184.20" x2="184.39" y2="185.80" stroke="#111" stroke-width="0.6"/>
<line x1="184.97" y1="184.20" x2="184.97" y2="185.80" stroke="#111" stroke-width="0.6"/>
<line x1="185.47" y1="184.20" x2="185.47" y2="185.80" stroke="#111" stroke-width="0.6"/>
<line x1="143.63" y1="184.20" x2="143.63" y2="185.80" stroke="#111" stroke-width="0.6"/>
<line x1="141.43" y1="184.20" x2="141.43" y2="185.80" stroke="#111" stroke-width="0.6"/>
<line x1="228.17" y1="184.20" x2="228.17" y2="187.20" stroke="#111" stroke-width="0.9"/>
<line x1="238.63" y1="184.20" x2="238.63" y2="187.20" stroke="#111" stroke-width="0.9"/>
<line x1="248.59" y1="184.20" x2="248.59" y2="187.20" stroke="#111" stroke-width="0.9"/>
<line x1="258.55" y1="184.20" x2="258.55" y2="187.20" stroke="#111" stroke-width="0.9"/>
<line x1="268.51" y1="184.20" x2="268.51" y2="187.20" stroke="#111" stroke-width="0.9"/>
<line x1="231.32" y1="184.20" x2="231.32" y2="185.80" stroke="#111" stroke-width="0.6"/>
<line x1="233.16" y1="184.20" x2="233.16" y2="185.80" stroke="#111" stroke-width="0.6"/>
<line x1="234.47" y1="184.20" x2="234.47" y2="185.80" stroke="#111" stroke-width="0.6"/>
<line x1="235.48" y1="184.20" x2="235.48" y2="185.80" stroke="#111" stroke-width="0.6"/>
<line x1="236.31" y1="184.20" x2="236.31" y2="185.80" stroke="#111" stroke-width="0.6"/>
<line x1="237.01" y1="184.20" x2="237.01" y2="185.80" stroke="#111" stroke-width="0.6"/>
<line x1="237.62" y1="184.20" x2="237.62" y2="185.80" stroke="#111" stroke-width="0.6"/>
<line x1="238.15" y1="184.20" x2="238.15" y2="185.80" stroke="#111" stroke-width="0.6"/>
<line x1="241.63" y1="184.20" x2="241.63" y2="185.80" stroke="#111" stroke-width="0.6"/>
<line x1="243.38" y1="184.20" x2="243.38" y2="185.80" stroke="#111" stroke-width="0.6"/>
<line x1="244.63" y1="184.20" x2="244.63" y2="185.80" stroke="#111" stroke-width="0.6"/>
<line x1="245.59" y1="184.20" x2="245.59" y2="185.80" stroke="#111" stroke-width="0.6"/>
<line x1="246.38" y1="184.20" x2="246.38" y2="185.80" stroke="#111" stroke-width="0.6"/>
<line x1="247.05" y1="184.20" x2="247.05" y2="185.80" stroke="#111" stroke-width="0.6"/>
<line x1="247.62" y1="184.20" x2="247.62" y2="185.80" stroke="#111" stroke-width="0.6"/>
<line x1="248.13" y1="184.20" x2="248.13" y2="185.80" stroke="#111" stroke-width="0.6"/>
<line x1="251.59" y1="184.20" x2="251.59" y2="185.80" stroke="#111" stroke-width="0.6"/>
<line x1="253.34" y1="184.20" x2="253.34" y2="185.80" stroke="#111" stroke-width="0.6"/>
<line x1="254.59" y1="184.20" x2="254.59" y2="185.80" stroke="#111" stroke-width="0.6"/>
<line x1="255.55" y1="184.20" x2="255.55" y2="185.80" stroke="#111" stroke-width="0.6"/>
<line x1="256.34" y1="184.20" x2="256.34" y2="185.80" stroke="#111" stroke-width="0.6"/>
<line x1="257.01" y1="184.20" x2="257.01" y2="185.80" stroke="#111" stroke-width="0.6"/>
<line x1="257.58" y1="184.20" x2="257.58" y2="185.80" stroke="#111" stroke-width="0.6"/>
<line x1="258.09" y1="184.20" x2="258.09" y2="185.80" stroke="#111" stroke-width="0.6"/>
<line x1="261.55" y1="184.20" x2="261.55" y2="185.80" stroke="#111" stroke-width="0.6"/>
<line x1="263.30" y1="184.20" x2="263.30" y2="185.80" stroke="#111" stroke-width="0.6"/>
<line x1="264.55" y1="184.20" x2="264.55" y2="185.80" stroke="#111" stroke-width="0.6"/>
<line x1="265.51" y1="184.20" x2="265.51" y2="185.80" stroke="#111" stroke-width="0.6"/>
<line x1="266.30" y1="184.20" x2="266.30" y2="185.80" stroke="#111" stroke-width="0.6"/>
<line x1="266.97" y1="184.20" x2="266.97" y2="185.80" stroke="#111" stroke-width="0.6"/>
<line x1="267.54" y1="184.20" x2="267.54" y2="185.80" stroke="#111" stroke-width="0.6"/>
<line x1="268.05" y1="184.20" x2="268.05" y2="185.80" stroke="#111" stroke-width="0.6"/>
<line x1="225.97" y1="184.20" x2="225.97" y2="185.80" stroke="#111" stroke-width="0.6"/>
<line x1="223.77" y1="184.20" x2="223.77" y2="185.80" stroke="#111" stroke-width="0.6"/>
<text x="65.20" y="107.90" font-size="7.2" fill="#111" textLength="45.80" lengthAdjust="spacingAndGlyphs">010<tspan font-size="4.90" dy="-3.24">2</tspan><tspan dy="3.24">10</tspan><tspan font-size="4.90" dy="-3.24">3</tspan><tspan dy="3.24">10</tspan><tspan font-size="4.90" dy="-3.24">4</tspan><tspan dy="3.24">10</tspan><tspan font-size="4.90" dy="-3.24">5</tspan></text>
<text x="145.50" y="107.20" font-size="7.2" fill="#111" textLength="44.50" lengthAdjust="spacingAndGlyphs">010<tspan font-size="4.90" dy="-3.24">2</tspan><tspan dy="3.24">10</tspan><tspan font-size="4.90" dy="-3.24">3</tspan><tspan dy="3.24">10</tspan><tspan font-size="4.90" dy="-3.24">4</tspan><tspan dy="3.24">10</tspan><tspan font-size="4.90" dy="-3.24">5</tspan></text>
<text x="227.20" y="106.90" font-size="7.2" fill="#111" textLength="44.10" lengthAdjust="spacingAndGlyphs">010<tspan font-size="4.90" dy="-3.24">2</tspan><tspan dy="3.24">10</tspan><tspan font-size="4.90" dy="-3.24">3</tspan><tspan dy="3.24">10</tspan><tspan font-size="4.90" dy="-3.24">4</tspan><tspan dy="3.24">10</tspan><tspan font-size="4.90" dy="-3.24">5</tspan></text>
<text x="65.20" y="196.70" font-size="7.2" fill="#111" textLength="45.20" lengthAdjust="spacingAndGlyphs">0 10<tspan font-size="4.90" dy="-3.24">2</tspan><tspan dy="3.24">10</tspan><tspan font-size="4.90" dy="-3.24">3</tspan><tspan dy="3.24">10</tspan><tspan font-size="4.90" dy="-3.24">4</tspan><tspan dy="3.24">10</tspan><tspan font-size="4.90" dy="-3.24">5</tspan></text>
<text x="144.30" y="196.50" font-size="7.2" fill="#111" textLength="43.40" lengthAdjust="spacingAndGlyphs">0 10<tspan font-size="4.90" dy="-3.24">2</tspan><tspan dy="3.24">10</tspan><tspan font-size="4.90" dy="-3.24">3</tspan><tspan dy="3.24">10</tspan><tspan font-size="4.90" dy="-3.24">4</tspan><tspan dy="3.24">10</tspan><tspan font-size="4.90" dy="-3.24">5</tspan></text>
<text x="226.50" y="196.20" font-size="7.2" fill="#111" textLength="45.80" lengthAdjust="spacingAndGlyphs">0 10<tspan font-size="4.90" dy="-3.24">2</tspan><tspan dy="3.24">10</tspan><tspan font-size="4.90" dy="-3.24">3</tspan><tspan dy="3.24">10</tspan><tspan font-size="4.90" dy="-3.24">4</tspan><tspan dy="3.24">10</tspan><tspan font-size="4.90" dy="-3.24">5</tspan></text>
<line x1="52.4" y1="206.7" x2="159" y2="206.7" stroke="#555" stroke-width="1.4"/>
<path d="M156.7,203.3 L165.3,206.7 L156.7,210.1 L158.5,206.7 Z" fill="#111"/>
<text x="168.8" y="209.9" font-size="10.6" font-weight="bold" fill="#111" style="stroke-width:0.12px" textLength="25.4" lengthAdjust="spacingAndGlyphs">Celltrace</text>
<line x1="321.10" y1="26.00" x2="321.10" y2="113.20" stroke="#222" stroke-width="1.4"/>
<line x1="318.10" y1="28.50" x2="321.10" y2="28.50" stroke="#222" stroke-width="1"/>
<text x="314.30" y="31.45" font-size="8.2" text-anchor="end" font-weight="normal" fill="#111" >100</text>
<line x1="318.10" y1="45.60" x2="321.10" y2="45.60" stroke="#222" stroke-width="1"/>
<text x="314.30" y="48.55" font-size="8.2" text-anchor="end" font-weight="normal" fill="#111" >80</text>
<line x1="318.10" y1="62.40" x2="321.10" y2="62.40" stroke="#222" stroke-width="1"/>
<text x="314.30" y="65.35" font-size="8.2" text-anchor="end" font-weight="normal" fill="#111" >60</text>
<line x1="318.10" y1="79.20" x2="321.10" y2="79.20" stroke="#222" stroke-width="1"/>
<text x="314.30" y="82.15" font-size="8.2" text-anchor="end" font-weight="normal" fill="#111" >40</text>
<line x1="318.10" y1="96.00" x2="321.10" y2="96.00" stroke="#222" stroke-width="1"/>
<text x="314.30" y="98.95" font-size="8.2" text-anchor="end" font-weight="normal" fill="#111" >20</text>
<line x1="318.10" y1="112.50" x2="321.10" y2="112.50" stroke="#222" stroke-width="1"/>
<text x="314.30" y="115.45" font-size="8.2" text-anchor="end" font-weight="normal" fill="#111" >0</text>
<line x1="320.40" y1="112.50" x2="381.80" y2="112.50" stroke="#222" stroke-width="1.4"/>
<text transform="translate(290.90,68.90) rotate(-90)" x="0" y="3.08" font-size="8.8" font-weight="normal" text-anchor="middle" fill="#111" style="stroke-width:0.3px" textLength="81.40" lengthAdjust="spacingAndGlyphs">% cell trace<tspan font-size="6.2" dy="-3.0">dim</tspan><tspan dy="3.0"> CD8 T cells</tspan></text>
<line x1="330.90" y1="103.30" x2="330.90" y2="111.40" stroke="#ad0832" stroke-width="1.0"/>
<line x1="324.10" y1="107.50" x2="337.70" y2="107.50" stroke="#ad0832" stroke-width="1.0"/>
<line x1="327.90" y1="103.30" x2="333.90" y2="103.30" stroke="#ad0832" stroke-width="1.0"/>
<line x1="327.90" y1="111.40" x2="333.90" y2="111.40" stroke="#ad0832" stroke-width="1.0"/>
<circle cx="330.80" cy="98.80" r="1.4" fill="#ad0832"/>
<path d="M327.40,109.50 L328.82,111.97 L325.97,111.97 Z" fill="#ad0832"/>
<path d="M334.60,109.70 L336.03,112.17 L333.18,112.17 Z" fill="#ad0832"/>
<line x1="350.90" y1="95.00" x2="350.90" y2="105.30" stroke="#2f5597" stroke-width="1.0"/>
<line x1="344.10" y1="100.40" x2="357.70" y2="100.40" stroke="#2f5597" stroke-width="1.0"/>
<line x1="347.70" y1="95.00" x2="354.10" y2="95.00" stroke="#2f5597" stroke-width="1.0"/>
<line x1="347.70" y1="105.30" x2="354.10" y2="105.30" stroke="#2f5597" stroke-width="1.0"/>
<circle cx="350.90" cy="91.70" r="1.0" fill="#2f5597"/>
<circle cx="350.90" cy="100.40" r="1.0" fill="#2f5597"/>
<circle cx="350.90" cy="109.90" r="1.0" fill="#2f5597"/>
<line x1="371.00" y1="41.20" x2="371.00" y2="43.40" stroke="#5ba83b" stroke-width="1.0"/>
<line x1="364.20" y1="42.30" x2="377.80" y2="42.30" stroke="#5ba83b" stroke-width="1.0"/>
<line x1="368.00" y1="41.20" x2="374.00" y2="41.20" stroke="#5ba83b" stroke-width="1.0"/>
<line x1="368.00" y1="43.40" x2="374.00" y2="43.40" stroke="#5ba83b" stroke-width="1.0"/>
<circle cx="371.10" cy="39.70" r="1.7" fill="none" stroke="#5ba83b" stroke-width="0.85"/>
<circle cx="367.50" cy="43.30" r="1.7" fill="none" stroke="#5ba83b" stroke-width="0.85"/>
<circle cx="374.40" cy="44.30" r="1.7" fill="none" stroke="#5ba83b" stroke-width="0.85"/>
<line x1="320.90" y1="129.50" x2="320.90" y2="216.90" stroke="#222" stroke-width="1.4"/>
<line x1="317.90" y1="131.70" x2="320.90" y2="131.70" stroke="#222" stroke-width="1"/>
<text x="314.30" y="134.65" font-size="8.2" text-anchor="end" font-weight="normal" fill="#111" >80</text>
<line x1="317.90" y1="152.90" x2="320.90" y2="152.90" stroke="#222" stroke-width="1"/>
<text x="314.30" y="155.85" font-size="8.2" text-anchor="end" font-weight="normal" fill="#111" >60</text>
<line x1="317.90" y1="174.10" x2="320.90" y2="174.10" stroke="#222" stroke-width="1"/>
<text x="314.30" y="177.05" font-size="8.2" text-anchor="end" font-weight="normal" fill="#111" >40</text>
<line x1="317.90" y1="194.90" x2="320.90" y2="194.90" stroke="#222" stroke-width="1"/>
<text x="314.30" y="197.85" font-size="8.2" text-anchor="end" font-weight="normal" fill="#111" >20</text>
<line x1="317.90" y1="216.20" x2="320.90" y2="216.20" stroke="#222" stroke-width="1"/>
<text x="314.30" y="219.15" font-size="8.2" text-anchor="end" font-weight="normal" fill="#111" >0</text>
<line x1="320.20" y1="216.20" x2="381.80" y2="216.20" stroke="#222" stroke-width="1.4"/>
<text transform="translate(295.70,172.30) rotate(-90)" x="0" y="3.08" font-size="8.8" font-weight="normal" text-anchor="middle" fill="#111" style="stroke-width:0.3px" textLength="83.00" lengthAdjust="spacingAndGlyphs">% cell trace<tspan font-size="6.2" dy="-3.0">dim</tspan><tspan dy="3.0"> CD4 T cells</tspan></text>
<line x1="330.60" y1="213.60" x2="330.60" y2="215.00" stroke="#ad0832" stroke-width="1.0"/>
<line x1="324.40" y1="214.40" x2="336.80" y2="214.40" stroke="#ad0832" stroke-width="1.0"/>
<line x1="328.10" y1="213.60" x2="333.10" y2="213.60" stroke="#ad0832" stroke-width="1.0"/>
<line x1="328.10" y1="215.00" x2="333.10" y2="215.00" stroke="#ad0832" stroke-width="1.0"/>
<path d="M326.00,212.30 L327.24,214.44 L324.76,214.44 Z" fill="#ad0832"/>
<path d="M330.00,212.90 L331.24,215.04 L328.76,215.04 Z" fill="#ad0832"/>
<path d="M334.50,213.30 L335.74,215.44 L333.26,215.44 Z" fill="#ad0832"/>
<line x1="351.00" y1="182.10" x2="351.00" y2="204.30" stroke="#2f5597" stroke-width="1.0"/>
<line x1="344.20" y1="193.60" x2="357.80" y2="193.60" stroke="#2f5597" stroke-width="1.0"/>
<line x1="347.60" y1="182.10" x2="354.40" y2="182.10" stroke="#2f5597" stroke-width="1.0"/>
<line x1="347.60" y1="204.30" x2="354.40" y2="204.30" stroke="#2f5597" stroke-width="1.0"/>
<circle cx="351.00" cy="173.20" r="1.0" fill="#2f5597"/>
<circle cx="351.00" cy="197.60" r="1.0" fill="#2f5597"/>
<circle cx="351.00" cy="211.10" r="1.0" fill="#2f5597"/>
<line x1="371.00" y1="145.40" x2="371.00" y2="167.30" stroke="#5ba83b" stroke-width="1.0"/>
<line x1="364.20" y1="156.40" x2="377.80" y2="156.40" stroke="#5ba83b" stroke-width="1.0"/>
<line x1="367.60" y1="145.40" x2="374.40" y2="145.40" stroke="#5ba83b" stroke-width="1.0"/>
<line x1="367.60" y1="167.30" x2="374.40" y2="167.30" stroke="#5ba83b" stroke-width="1.0"/>
<circle cx="371.00" cy="141.00" r="1.6" fill="none" stroke="#5ba83b" stroke-width="0.85"/>
<circle cx="371.00" cy="150.20" r="1.6" fill="none" stroke="#5ba83b" stroke-width="0.85"/>
<circle cx="371.00" cy="178.10" r="1.6" fill="none" stroke="#5ba83b" stroke-width="0.85"/>
<line x1="438.10" y1="26.10" x2="438.10" y2="132.70" stroke="#222" stroke-width="1.4"/>
<line x1="435.10" y1="28.40" x2="438.10" y2="28.40" stroke="#222" stroke-width="1"/>
<text x="431.80" y="31.50" font-size="8.6" text-anchor="end" font-weight="normal" fill="#111" >2000</text>
<line x1="435.10" y1="54.70" x2="438.10" y2="54.70" stroke="#222" stroke-width="1"/>
<text x="431.80" y="57.80" font-size="8.6" text-anchor="end" font-weight="normal" fill="#111" >1500</text>
<line x1="435.10" y1="80.60" x2="438.10" y2="80.60" stroke="#222" stroke-width="1"/>
<text x="431.80" y="83.70" font-size="8.6" text-anchor="end" font-weight="normal" fill="#111" >1000</text>
<line x1="435.10" y1="106.40" x2="438.10" y2="106.40" stroke="#222" stroke-width="1"/>
<text x="431.80" y="109.50" font-size="8.6" text-anchor="end" font-weight="normal" fill="#111" >500</text>
<line x1="435.10" y1="132.00" x2="438.10" y2="132.00" stroke="#222" stroke-width="1"/>
<text x="431.80" y="135.10" font-size="8.6" text-anchor="end" font-weight="normal" fill="#111" >0</text>
<line x1="437.40" y1="132.00" x2="512.40" y2="132.00" stroke="#222" stroke-width="1.4"/>
<text transform="translate(403.40,79.25) rotate(-90)" x="0" y="3.08" font-size="8.8" font-weight="normal" text-anchor="middle" fill="#111" style="stroke-width:0.3px" textLength="43.50" lengthAdjust="spacingAndGlyphs">IFN-g (pg/ml)</text>
<line x1="450.20" y1="120.30" x2="450.20" y2="132.00" stroke="#ad0832" stroke-width="1.0"/>
<line x1="442.10" y1="125.60" x2="458.30" y2="125.60" stroke="#ad0832" stroke-width="1.0"/>
<line x1="446.40" y1="120.30" x2="454.00" y2="120.30" stroke="#ad0832" stroke-width="1.0"/>
<line x1="446.40" y1="132.00" x2="454.00" y2="132.00" stroke="#ad0832" stroke-width="1.0"/>
<circle cx="450.20" cy="114.90" r="1.5" fill="#ad0832"/>
<circle cx="446.20" cy="130.60" r="1.5" fill="#ad0832"/>
<circle cx="454.20" cy="131.60" r="1.5" fill="#ad0832"/>
<line x1="474.80" y1="121.60" x2="474.80" y2="127.60" stroke="#2f5597" stroke-width="1.0"/>
<line x1="466.90" y1="124.60" x2="482.70" y2="124.60" stroke="#2f5597" stroke-width="1.0"/>
<line x1="471.20" y1="121.60" x2="478.40" y2="121.60" stroke="#2f5597" stroke-width="1.0"/>
<line x1="471.20" y1="127.60" x2="478.40" y2="127.60" stroke="#2f5597" stroke-width="1.0"/>
<path d="M471.40,119.20 L472.73,121.51 L470.07,121.51 Z" fill="#2f5597"/>
<path d="M479.10,122.20 L480.43,124.51 L477.77,124.51 Z" fill="#2f5597"/>
<path d="M474.80,129.40 L476.13,131.71 L473.47,131.71 Z" fill="#2f5597"/>
<line x1="499.70" y1="56.70" x2="499.70" y2="97.70" stroke="#5ba83b" stroke-width="1.0"/>
<line x1="491.60" y1="77.50" x2="507.80" y2="77.50" stroke="#5ba83b" stroke-width="1.0"/>
<line x1="495.70" y1="56.70" x2="503.70" y2="56.70" stroke="#5ba83b" stroke-width="1.0"/>
<line x1="495.70" y1="97.70" x2="503.70" y2="97.70" stroke="#5ba83b" stroke-width="1.0"/>
<circle cx="499.70" cy="44.60" r="1.6" fill="none" stroke="#5ba83b" stroke-width="0.85"/>
<circle cx="499.70" cy="72.50" r="1.6" fill="none" stroke="#5ba83b" stroke-width="0.85"/>
<circle cx="499.70" cy="114.90" r="1.6" fill="none" stroke="#5ba83b" stroke-width="0.85"/>
<circle cx="452.60" cy="149.20" r="1.6" fill="#ad0832"/>
<path d="M452.60,160.40 L454.31,163.37 L450.89,163.37 Z" fill="#2f5597"/>
<circle cx="452.60" cy="175.70" r="1.6" fill="none" stroke="#5ba83b" stroke-width="0.8"/>
<text x="457.20" y="152.00" font-size="8.1" text-anchor="start" fill="#111">TIM3<tspan font-size="5.83" dy="-3.24">+</tspan><tspan dy="3.24"> PD1</tspan><tspan font-size="5.83" dy="-3.24">+</tspan></text>
<text x="457.20" y="165.20" font-size="8.1" text-anchor="start" fill="#111">TIM3<tspan font-size="5.83" dy="-4.05">-</tspan><tspan dy="4.05"> PD1</tspan><tspan font-size="5.83" dy="-3.24">+</tspan></text>
<text x="457.20" y="178.60" font-size="8.1" text-anchor="start" fill="#111">TIM3<tspan font-size="5.83" dy="-4.05">-</tspan><tspan dy="4.05"> PD1</tspan><tspan font-size="5.83" dy="-4.05">-</tspan></text>
<text x="78.40" y="260.40" font-size="8.6" fill="#111" textLength="30.90" lengthAdjust="spacingAndGlyphs">Ctrl IgG1</text>
<text x="183.00" y="260.40" font-size="8.6" fill="#111" textLength="31.90" lengthAdjust="spacingAndGlyphs">anti- PD1</text>
<text x="286.70" y="260.40" font-size="8.6" fill="#111" textLength="35.50" lengthAdjust="spacingAndGlyphs">anti- TIM3</text>
<line x1="56.00" y1="269.20" x2="59.30" y2="269.20" stroke="#222" stroke-width="1.1"/>
<text x="52.60" y="271.58" font-size="6.6" text-anchor="end" font-weight="normal" fill="#111" >120</text>
<line x1="56.00" y1="286.00" x2="59.30" y2="286.00" stroke="#222" stroke-width="1.1"/>
<text x="52.60" y="288.38" font-size="6.6" text-anchor="end" font-weight="normal" fill="#111" >90</text>
<line x1="56.00" y1="302.70" x2="59.30" y2="302.70" stroke="#222" stroke-width="1.1"/>
<text x="52.60" y="305.08" font-size="6.6" text-anchor="end" font-weight="normal" fill="#111" >60</text>
<line x1="56.00" y1="319.60" x2="59.30" y2="319.60" stroke="#222" stroke-width="1.1"/>
<text x="52.60" y="321.98" font-size="6.6" text-anchor="end" font-weight="normal" fill="#111" >30</text>
<line x1="56.00" y1="336.40" x2="59.30" y2="336.40" stroke="#222" stroke-width="1.1"/>
<text x="52.60" y="338.78" font-size="6.6" text-anchor="end" font-weight="normal" fill="#111" >0</text>
<line x1="57.60" y1="330.80" x2="59.30" y2="330.80" stroke="#222" stroke-width="0.8"/>
<line x1="57.60" y1="325.20" x2="59.30" y2="325.20" stroke="#222" stroke-width="0.8"/>
<line x1="57.60" y1="314.00" x2="59.30" y2="314.00" stroke="#222" stroke-width="0.8"/>
<line x1="57.60" y1="308.40" x2="59.30" y2="308.40" stroke="#222" stroke-width="0.8"/>
<line x1="57.60" y1="297.20" x2="59.30" y2="297.20" stroke="#222" stroke-width="0.8"/>
<line x1="57.60" y1="291.60" x2="59.30" y2="291.60" stroke="#222" stroke-width="0.8"/>
<line x1="57.60" y1="280.40" x2="59.30" y2="280.40" stroke="#222" stroke-width="0.8"/>
<line x1="57.60" y1="274.80" x2="59.30" y2="274.80" stroke="#222" stroke-width="0.8"/>
<rect x="59.30" y="266.00" width="70.70" height="70.40" fill="none" stroke="#222" stroke-width="1.3"/>
<line x1="161.00" y1="269.10" x2="164.30" y2="269.10" stroke="#222" stroke-width="1.1"/>
<text x="157.80" y="271.48" font-size="6.6" text-anchor="end" font-weight="normal" fill="#111" >120</text>
<line x1="161.00" y1="286.00" x2="164.30" y2="286.00" stroke="#222" stroke-width="1.1"/>
<text x="157.80" y="288.38" font-size="6.6" text-anchor="end" font-weight="normal" fill="#111" >90</text>
<line x1="161.00" y1="302.80" x2="164.30" y2="302.80" stroke="#222" stroke-width="1.1"/>
<text x="157.80" y="305.18" font-size="6.6" text-anchor="end" font-weight="normal" fill="#111" >60</text>
<line x1="161.00" y1="319.70" x2="164.30" y2="319.70" stroke="#222" stroke-width="1.1"/>
<text x="157.80" y="322.08" font-size="6.6" text-anchor="end" font-weight="normal" fill="#111" >30</text>
<line x1="161.00" y1="336.40" x2="164.30" y2="336.40" stroke="#222" stroke-width="1.1"/>
<text x="157.80" y="338.78" font-size="6.6" text-anchor="end" font-weight="normal" fill="#111" >0</text>
<line x1="162.60" y1="330.77" x2="164.30" y2="330.77" stroke="#222" stroke-width="0.8"/>
<line x1="162.60" y1="325.13" x2="164.30" y2="325.13" stroke="#222" stroke-width="0.8"/>
<line x1="162.60" y1="313.87" x2="164.30" y2="313.87" stroke="#222" stroke-width="0.8"/>
<line x1="162.60" y1="308.23" x2="164.30" y2="308.23" stroke="#222" stroke-width="0.8"/>
<line x1="162.60" y1="296.97" x2="164.30" y2="296.97" stroke="#222" stroke-width="0.8"/>
<line x1="162.60" y1="291.33" x2="164.30" y2="291.33" stroke="#222" stroke-width="0.8"/>
<line x1="162.60" y1="280.07" x2="164.30" y2="280.07" stroke="#222" stroke-width="0.8"/>
<line x1="162.60" y1="274.43" x2="164.30" y2="274.43" stroke="#222" stroke-width="0.8"/>
<rect x="164.30" y="266.00" width="70.90" height="70.40" fill="none" stroke="#222" stroke-width="1.3"/>
<line x1="266.00" y1="274.40" x2="269.30" y2="274.40" stroke="#222" stroke-width="1.1"/>
<text x="262.80" y="276.92" font-size="7.0" text-anchor="end" font-weight="normal" fill="#111" >120</text>
<line x1="266.00" y1="289.80" x2="269.30" y2="289.80" stroke="#222" stroke-width="1.1"/>
<text x="262.80" y="292.32" font-size="7.0" text-anchor="end" font-weight="normal" fill="#111" >90</text>
<line x1="266.00" y1="305.20" x2="269.30" y2="305.20" stroke="#222" stroke-width="1.1"/>
<text x="262.80" y="307.72" font-size="7.0" text-anchor="end" font-weight="normal" fill="#111" >60</text>
<line x1="266.00" y1="320.80" x2="269.30" y2="320.80" stroke="#222" stroke-width="1.1"/>
<text x="262.80" y="323.32" font-size="7.0" text-anchor="end" font-weight="normal" fill="#111" >30</text>
<line x1="266.00" y1="336.40" x2="269.30" y2="336.40" stroke="#222" stroke-width="1.1"/>
<text x="262.80" y="338.92" font-size="7.0" text-anchor="end" font-weight="normal" fill="#111" >0</text>
<line x1="267.60" y1="331.27" x2="269.30" y2="331.27" stroke="#222" stroke-width="0.8"/>
<line x1="267.60" y1="326.13" x2="269.30" y2="326.13" stroke="#222" stroke-width="0.8"/>
<line x1="267.60" y1="315.87" x2="269.30" y2="315.87" stroke="#222" stroke-width="0.8"/>
<line x1="267.60" y1="310.73" x2="269.30" y2="310.73" stroke="#222" stroke-width="0.8"/>
<line x1="267.60" y1="300.47" x2="269.30" y2="300.47" stroke="#222" stroke-width="0.8"/>
<line x1="267.60" y1="295.33" x2="269.30" y2="295.33" stroke="#222" stroke-width="0.8"/>
<line x1="267.60" y1="285.07" x2="269.30" y2="285.07" stroke="#222" stroke-width="0.8"/>
<line x1="267.60" y1="279.93" x2="269.30" y2="279.93" stroke="#222" stroke-width="0.8"/>
<line x1="267.60" y1="269.67" x2="269.30" y2="269.67" stroke="#222" stroke-width="0.8"/>
<rect x="269.30" y="266.00" width="71.00" height="70.40" fill="none" stroke="#222" stroke-width="1.3"/>
<line x1="56.00" y1="450.80" x2="59.30" y2="450.80" stroke="#222" stroke-width="1.1"/>
<text x="52.60" y="453.25" font-size="6.8" text-anchor="end" font-weight="normal" fill="#111" >150</text>
<line x1="56.00" y1="470.40" x2="59.30" y2="470.40" stroke="#222" stroke-width="1.1"/>
<text x="52.60" y="472.85" font-size="6.8" text-anchor="end" font-weight="normal" fill="#111" >100</text>
<line x1="56.00" y1="490.00" x2="59.30" y2="490.00" stroke="#222" stroke-width="1.1"/>
<text x="52.60" y="492.45" font-size="6.8" text-anchor="end" font-weight="normal" fill="#111" >50</text>
<line x1="56.00" y1="509.10" x2="59.30" y2="509.10" stroke="#222" stroke-width="1.1"/>
<text x="52.60" y="511.55" font-size="6.8" text-anchor="end" font-weight="normal" fill="#111" >0</text>
<line x1="57.60" y1="505.18" x2="59.30" y2="505.18" stroke="#222" stroke-width="0.8"/>
<line x1="57.60" y1="501.26" x2="59.30" y2="501.26" stroke="#222" stroke-width="0.8"/>
<line x1="57.60" y1="497.34" x2="59.30" y2="497.34" stroke="#222" stroke-width="0.8"/>
<line x1="57.60" y1="493.42" x2="59.30" y2="493.42" stroke="#222" stroke-width="0.8"/>
<line x1="57.60" y1="485.58" x2="59.30" y2="485.58" stroke="#222" stroke-width="0.8"/>
<line x1="57.60" y1="481.66" x2="59.30" y2="481.66" stroke="#222" stroke-width="0.8"/>
<line x1="57.60" y1="477.74" x2="59.30" y2="477.74" stroke="#222" stroke-width="0.8"/>
<line x1="57.60" y1="473.82" x2="59.30" y2="473.82" stroke="#222" stroke-width="0.8"/>
<line x1="57.60" y1="465.98" x2="59.30" y2="465.98" stroke="#222" stroke-width="0.8"/>
<line x1="57.60" y1="462.06" x2="59.30" y2="462.06" stroke="#222" stroke-width="0.8"/>
<line x1="57.60" y1="458.14" x2="59.30" y2="458.14" stroke="#222" stroke-width="0.8"/>
<line x1="57.60" y1="454.22" x2="59.30" y2="454.22" stroke="#222" stroke-width="0.8"/>
<line x1="57.60" y1="446.38" x2="59.30" y2="446.38" stroke="#222" stroke-width="0.8"/>
<line x1="57.60" y1="442.46" x2="59.30" y2="442.46" stroke="#222" stroke-width="0.8"/>
<rect x="59.30" y="439.00" width="71.20" height="70.10" fill="none" stroke="#222" stroke-width="1.3"/>
<line x1="164.10" y1="450.00" x2="167.40" y2="450.00" stroke="#222" stroke-width="1.1"/>
<text x="161.30" y="453.02" font-size="8.4" text-anchor="end" font-weight="normal" fill="#111" >150</text>
<line x1="164.10" y1="470.10" x2="167.40" y2="470.10" stroke="#222" stroke-width="1.1"/>
<text x="161.30" y="473.12" font-size="8.4" text-anchor="end" font-weight="normal" fill="#111" >100</text>
<line x1="164.10" y1="489.70" x2="167.40" y2="489.70" stroke="#222" stroke-width="1.1"/>
<text x="161.30" y="492.72" font-size="8.4" text-anchor="end" font-weight="normal" fill="#111" >50</text>
<line x1="164.10" y1="509.10" x2="167.40" y2="509.10" stroke="#222" stroke-width="1.1"/>
<text x="161.30" y="512.12" font-size="8.4" text-anchor="end" font-weight="normal" fill="#111" >0</text>
<line x1="165.70" y1="505.08" x2="167.40" y2="505.08" stroke="#222" stroke-width="0.8"/>
<line x1="165.70" y1="501.06" x2="167.40" y2="501.06" stroke="#222" stroke-width="0.8"/>
<line x1="165.70" y1="497.04" x2="167.40" y2="497.04" stroke="#222" stroke-width="0.8"/>
<line x1="165.70" y1="493.02" x2="167.40" y2="493.02" stroke="#222" stroke-width="0.8"/>
<line x1="165.70" y1="484.98" x2="167.40" y2="484.98" stroke="#222" stroke-width="0.8"/>
<line x1="165.70" y1="480.96" x2="167.40" y2="480.96" stroke="#222" stroke-width="0.8"/>
<line x1="165.70" y1="476.94" x2="167.40" y2="476.94" stroke="#222" stroke-width="0.8"/>
<line x1="165.70" y1="472.92" x2="167.40" y2="472.92" stroke="#222" stroke-width="0.8"/>
<line x1="165.70" y1="464.88" x2="167.40" y2="464.88" stroke="#222" stroke-width="0.8"/>
<line x1="165.70" y1="460.86" x2="167.40" y2="460.86" stroke="#222" stroke-width="0.8"/>
<line x1="165.70" y1="456.84" x2="167.40" y2="456.84" stroke="#222" stroke-width="0.8"/>
<line x1="165.70" y1="452.82" x2="167.40" y2="452.82" stroke="#222" stroke-width="0.8"/>
<line x1="165.70" y1="444.78" x2="167.40" y2="444.78" stroke="#222" stroke-width="0.8"/>
<line x1="165.70" y1="440.76" x2="167.40" y2="440.76" stroke="#222" stroke-width="0.8"/>
<rect x="167.40" y="439.00" width="70.90" height="70.10" fill="none" stroke="#222" stroke-width="1.3"/>
<line x1="266.00" y1="453.40" x2="269.30" y2="453.40" stroke="#222" stroke-width="1.1"/>
<text x="262.80" y="455.85" font-size="6.8" text-anchor="end" font-weight="normal" fill="#111" >150</text>
<line x1="266.00" y1="472.00" x2="269.30" y2="472.00" stroke="#222" stroke-width="1.1"/>
<text x="262.80" y="474.45" font-size="6.8" text-anchor="end" font-weight="normal" fill="#111" >100</text>
<line x1="266.00" y1="490.80" x2="269.30" y2="490.80" stroke="#222" stroke-width="1.1"/>
<text x="262.80" y="493.25" font-size="6.8" text-anchor="end" font-weight="normal" fill="#111" >50</text>
<line x1="266.00" y1="509.10" x2="269.30" y2="509.10" stroke="#222" stroke-width="1.1"/>
<text x="262.80" y="511.55" font-size="6.8" text-anchor="end" font-weight="normal" fill="#111" >0</text>
<line x1="267.60" y1="505.38" x2="269.30" y2="505.38" stroke="#222" stroke-width="0.8"/>
<line x1="267.60" y1="501.66" x2="269.30" y2="501.66" stroke="#222" stroke-width="0.8"/>
<line x1="267.60" y1="497.94" x2="269.30" y2="497.94" stroke="#222" stroke-width="0.8"/>
<line x1="267.60" y1="494.22" x2="269.30" y2="494.22" stroke="#222" stroke-width="0.8"/>
<line x1="267.60" y1="486.78" x2="269.30" y2="486.78" stroke="#222" stroke-width="0.8"/>
<line x1="267.60" y1="483.06" x2="269.30" y2="483.06" stroke="#222" stroke-width="0.8"/>
<line x1="267.60" y1="479.34" x2="269.30" y2="479.34" stroke="#222" stroke-width="0.8"/>
<line x1="267.60" y1="475.62" x2="269.30" y2="475.62" stroke="#222" stroke-width="0.8"/>
<line x1="267.60" y1="468.18" x2="269.30" y2="468.18" stroke="#222" stroke-width="0.8"/>
<line x1="267.60" y1="464.46" x2="269.30" y2="464.46" stroke="#222" stroke-width="0.8"/>
<line x1="267.60" y1="460.74" x2="269.30" y2="460.74" stroke="#222" stroke-width="0.8"/>
<line x1="267.60" y1="457.02" x2="269.30" y2="457.02" stroke="#222" stroke-width="0.8"/>
<line x1="267.60" y1="449.58" x2="269.30" y2="449.58" stroke="#222" stroke-width="0.8"/>
<line x1="267.60" y1="445.86" x2="269.30" y2="445.86" stroke="#222" stroke-width="0.8"/>
<line x1="267.60" y1="442.14" x2="269.30" y2="442.14" stroke="#222" stroke-width="0.8"/>
<rect x="269.30" y="439.00" width="70.50" height="70.10" fill="none" stroke="#222" stroke-width="1.3"/>
<path d="M90.50,335.80 L90.50,335.60 L92.40,332.50 L94.20,327.60 L95.40,324.50 L96.70,323.90 L97.50,317.80 L98.50,314.10 L99.40,317.80 L100.30,322.70 L101.30,316.50 L102.40,313.80 L103.40,319.00 L104.40,327.00 L105.20,323.90 L106.10,322.70 L107.10,324.50 L107.70,325.10 L108.60,330.60 L109.50,330.00 L110.80,311.60 L112.00,289.50 L113.00,272.40 L113.80,270.20 L114.70,274.80 L115.40,295.70 L116.30,317.80 L117.10,331.30 L118.10,335.60 L118.10,335.80 Z" fill="#a6002c" stroke="#a6002c" stroke-width="0.3" stroke-linejoin="round"/>
<path d="M191.70,335.80 L191.70,335.60 L194.10,333.10 L196.00,330.00 L197.20,323.90 L198.10,314.10 L198.80,311.40 L199.70,312.90 L200.50,316.50 L201.50,308.00 L202.50,295.70 L203.30,292.20 L204.20,301.80 L205.20,314.70 L206.20,310.40 L207.00,308.20 L207.90,314.10 L208.90,325.10 L209.80,323.90 L210.70,323.30 L211.60,326.30 L213.20,328.80 L214.40,326.30 L215.60,314.10 L216.80,289.50 L217.70,273.60 L218.40,270.50 L219.30,277.30 L220.10,301.80 L220.90,322.70 L221.70,333.70 L222.60,335.60 L222.60,335.80 Z" fill="#a6002c" stroke="#a6002c" stroke-width="0.3" stroke-linejoin="round"/>
<path d="M296.90,335.80 L296.90,335.60 L299.40,332.50 L300.80,331.30 L302.10,326.30 L303.30,319.60 L304.30,316.50 L305.30,317.80 L306.50,305.50 L308.30,293.50 L309.40,308.00 L310.40,315.30 L311.40,305.50 L312.40,298.10 L313.10,305.50 L314.30,321.40 L315.60,320.80 L316.50,319.00 L317.30,319.60 L318.40,327.00 L319.60,320.20 L321.20,295.70 L322.70,274.80 L323.70,269.90 L324.50,274.80 L325.40,301.80 L326.40,326.30 L327.30,333.70 L328.30,335.60 L328.30,335.80 Z" fill="#a6002c" stroke="#a6002c" stroke-width="0.3" stroke-linejoin="round"/>
<path d="M72.50,508.60 L72.50,508.80 L77.40,508.10 L81.00,506.00 L83.50,503.00 L85.30,499.30 L87.20,496.90 L88.40,493.80 L89.40,488.90 L90.00,492.00 L90.80,488.90 L91.70,491.30 L92.70,489.50 L93.50,488.30 L94.30,494.40 L95.10,499.90 L96.00,495.60 L97.00,493.20 L98.00,493.80 L98.80,498.10 L99.80,496.90 L101.30,496.90 L102.10,491.90 L103.10,474.80 L104.30,452.70 L105.60,443.50 L106.30,450.30 L107.00,474.80 L108.00,493.20 L109.20,503.00 L111.10,507.60 L112.90,508.80 L112.90,508.60 Z" fill="#a6002c" stroke="#a6002c" stroke-width="0.3" stroke-linejoin="round"/>
<path d="M179.70,508.60 L179.70,508.80 L184.60,507.60 L187.00,504.20 L188.90,500.50 L190.70,495.60 L192.20,490.70 L193.40,485.80 L195.00,484.00 L196.20,478.50 L197.20,478.50 L198.10,483.40 L199.30,484.60 L200.50,483.40 L201.50,486.40 L202.40,488.30 L203.60,491.90 L204.80,490.70 L206.00,495.60 L207.30,498.10 L208.50,497.50 L209.70,491.90 L210.90,474.80 L212.20,452.70 L213.20,444.10 L214.00,450.30 L215.00,474.80 L216.20,496.90 L217.70,506.70 L219.50,508.80 L219.50,508.60 Z" fill="#a6002c" stroke="#a6002c" stroke-width="0.3" stroke-linejoin="round"/>
<path d="M281.70,508.60 L281.70,508.80 L285.40,506.90 L288.40,504.20 L290.30,500.50 L292.10,493.20 L293.70,485.80 L295.20,480.30 L296.40,480.90 L297.40,473.60 L298.20,468.00 L299.50,468.70 L300.40,476.00 L301.50,476.00 L302.50,470.50 L303.50,470.10 L304.40,480.90 L305.20,487.00 L306.80,488.30 L307.80,491.90 L308.70,498.10 L309.60,498.70 L310.90,491.90 L312.30,474.80 L313.80,452.70 L315.40,443.10 L316.30,450.30 L317.20,474.80 L318.20,495.60 L319.70,506.00 L321.50,508.80 L321.50,508.60 Z" fill="#a6002c" stroke="#a6002c" stroke-width="0.3" stroke-linejoin="round"/>
<line x1="68.77" y1="336.40" x2="68.77" y2="339.40" stroke="#111" stroke-width="0.9"/>
<line x1="82.63" y1="336.40" x2="82.63" y2="339.40" stroke="#111" stroke-width="0.9"/>
<line x1="96.77" y1="336.40" x2="96.77" y2="339.40" stroke="#111" stroke-width="0.9"/>
<line x1="110.91" y1="336.40" x2="110.91" y2="339.40" stroke="#111" stroke-width="0.9"/>
<line x1="125.05" y1="336.40" x2="125.05" y2="339.40" stroke="#111" stroke-width="0.9"/>
<line x1="72.95" y1="336.40" x2="72.95" y2="338.00" stroke="#111" stroke-width="0.6"/>
<line x1="75.39" y1="336.40" x2="75.39" y2="338.00" stroke="#111" stroke-width="0.6"/>
<line x1="77.12" y1="336.40" x2="77.12" y2="338.00" stroke="#111" stroke-width="0.6"/>
<line x1="78.46" y1="336.40" x2="78.46" y2="338.00" stroke="#111" stroke-width="0.6"/>
<line x1="79.56" y1="336.40" x2="79.56" y2="338.00" stroke="#111" stroke-width="0.6"/>
<line x1="80.48" y1="336.40" x2="80.48" y2="338.00" stroke="#111" stroke-width="0.6"/>
<line x1="81.29" y1="336.40" x2="81.29" y2="338.00" stroke="#111" stroke-width="0.6"/>
<line x1="82.00" y1="336.40" x2="82.00" y2="338.00" stroke="#111" stroke-width="0.6"/>
<line x1="86.89" y1="336.40" x2="86.89" y2="338.00" stroke="#111" stroke-width="0.6"/>
<line x1="89.38" y1="336.40" x2="89.38" y2="338.00" stroke="#111" stroke-width="0.6"/>
<line x1="91.14" y1="336.40" x2="91.14" y2="338.00" stroke="#111" stroke-width="0.6"/>
<line x1="92.51" y1="336.40" x2="92.51" y2="338.00" stroke="#111" stroke-width="0.6"/>
<line x1="93.63" y1="336.40" x2="93.63" y2="338.00" stroke="#111" stroke-width="0.6"/>
<line x1="94.58" y1="336.40" x2="94.58" y2="338.00" stroke="#111" stroke-width="0.6"/>
<line x1="95.40" y1="336.40" x2="95.40" y2="338.00" stroke="#111" stroke-width="0.6"/>
<line x1="96.12" y1="336.40" x2="96.12" y2="338.00" stroke="#111" stroke-width="0.6"/>
<line x1="101.03" y1="336.40" x2="101.03" y2="338.00" stroke="#111" stroke-width="0.6"/>
<line x1="103.52" y1="336.40" x2="103.52" y2="338.00" stroke="#111" stroke-width="0.6"/>
<line x1="105.28" y1="336.40" x2="105.28" y2="338.00" stroke="#111" stroke-width="0.6"/>
<line x1="106.65" y1="336.40" x2="106.65" y2="338.00" stroke="#111" stroke-width="0.6"/>
<line x1="107.77" y1="336.40" x2="107.77" y2="338.00" stroke="#111" stroke-width="0.6"/>
<line x1="108.72" y1="336.40" x2="108.72" y2="338.00" stroke="#111" stroke-width="0.6"/>
<line x1="109.54" y1="336.40" x2="109.54" y2="338.00" stroke="#111" stroke-width="0.6"/>
<line x1="110.26" y1="336.40" x2="110.26" y2="338.00" stroke="#111" stroke-width="0.6"/>
<line x1="115.17" y1="336.40" x2="115.17" y2="338.00" stroke="#111" stroke-width="0.6"/>
<line x1="117.66" y1="336.40" x2="117.66" y2="338.00" stroke="#111" stroke-width="0.6"/>
<line x1="119.42" y1="336.40" x2="119.42" y2="338.00" stroke="#111" stroke-width="0.6"/>
<line x1="120.79" y1="336.40" x2="120.79" y2="338.00" stroke="#111" stroke-width="0.6"/>
<line x1="121.91" y1="336.40" x2="121.91" y2="338.00" stroke="#111" stroke-width="0.6"/>
<line x1="122.86" y1="336.40" x2="122.86" y2="338.00" stroke="#111" stroke-width="0.6"/>
<line x1="123.68" y1="336.40" x2="123.68" y2="338.00" stroke="#111" stroke-width="0.6"/>
<line x1="124.40" y1="336.40" x2="124.40" y2="338.00" stroke="#111" stroke-width="0.6"/>
<line x1="66.57" y1="336.40" x2="66.57" y2="338.00" stroke="#111" stroke-width="0.6"/>
<line x1="64.37" y1="336.40" x2="64.37" y2="338.00" stroke="#111" stroke-width="0.6"/>
<line x1="62.17" y1="336.40" x2="62.17" y2="338.00" stroke="#111" stroke-width="0.6"/>
<text x="68.20" y="348.40" font-size="6.5" text-anchor="start" font-weight="normal" fill="#111" >0</text>
<text x="76.30" y="348.40" font-size="6.5" fill="#111">10<tspan font-size="4.42" dy="-2.93">2</tspan></text>
<text x="91.30" y="348.40" font-size="6.5" fill="#111">10<tspan font-size="4.42" dy="-2.93">3</tspan></text>
<text x="105.90" y="348.40" font-size="6.5" fill="#111">10<tspan font-size="4.42" dy="-2.93">4</tspan></text>
<text x="119.70" y="348.40" font-size="6.5" fill="#111">10<tspan font-size="4.42" dy="-2.93">5</tspan></text>
<line x1="173.80" y1="336.40" x2="173.80" y2="339.40" stroke="#111" stroke-width="0.9"/>
<line x1="187.70" y1="336.40" x2="187.70" y2="339.40" stroke="#111" stroke-width="0.9"/>
<line x1="201.88" y1="336.40" x2="201.88" y2="339.40" stroke="#111" stroke-width="0.9"/>
<line x1="216.06" y1="336.40" x2="216.06" y2="339.40" stroke="#111" stroke-width="0.9"/>
<line x1="230.24" y1="336.40" x2="230.24" y2="339.40" stroke="#111" stroke-width="0.9"/>
<line x1="177.98" y1="336.40" x2="177.98" y2="338.00" stroke="#111" stroke-width="0.6"/>
<line x1="180.43" y1="336.40" x2="180.43" y2="338.00" stroke="#111" stroke-width="0.6"/>
<line x1="182.17" y1="336.40" x2="182.17" y2="338.00" stroke="#111" stroke-width="0.6"/>
<line x1="183.51" y1="336.40" x2="183.51" y2="338.00" stroke="#111" stroke-width="0.6"/>
<line x1="184.61" y1="336.40" x2="184.61" y2="338.00" stroke="#111" stroke-width="0.6"/>
<line x1="185.54" y1="336.40" x2="185.54" y2="338.00" stroke="#111" stroke-width="0.6"/>
<line x1="186.35" y1="336.40" x2="186.35" y2="338.00" stroke="#111" stroke-width="0.6"/>
<line x1="187.06" y1="336.40" x2="187.06" y2="338.00" stroke="#111" stroke-width="0.6"/>
<line x1="191.97" y1="336.40" x2="191.97" y2="338.00" stroke="#111" stroke-width="0.6"/>
<line x1="194.46" y1="336.40" x2="194.46" y2="338.00" stroke="#111" stroke-width="0.6"/>
<line x1="196.23" y1="336.40" x2="196.23" y2="338.00" stroke="#111" stroke-width="0.6"/>
<line x1="197.61" y1="336.40" x2="197.61" y2="338.00" stroke="#111" stroke-width="0.6"/>
<line x1="198.73" y1="336.40" x2="198.73" y2="338.00" stroke="#111" stroke-width="0.6"/>
<line x1="199.68" y1="336.40" x2="199.68" y2="338.00" stroke="#111" stroke-width="0.6"/>
<line x1="200.50" y1="336.40" x2="200.50" y2="338.00" stroke="#111" stroke-width="0.6"/>
<line x1="201.23" y1="336.40" x2="201.23" y2="338.00" stroke="#111" stroke-width="0.6"/>
<line x1="206.15" y1="336.40" x2="206.15" y2="338.00" stroke="#111" stroke-width="0.6"/>
<line x1="208.64" y1="336.40" x2="208.64" y2="338.00" stroke="#111" stroke-width="0.6"/>
<line x1="210.41" y1="336.40" x2="210.41" y2="338.00" stroke="#111" stroke-width="0.6"/>
<line x1="211.79" y1="336.40" x2="211.79" y2="338.00" stroke="#111" stroke-width="0.6"/>
<line x1="212.91" y1="336.40" x2="212.91" y2="338.00" stroke="#111" stroke-width="0.6"/>
<line x1="213.86" y1="336.40" x2="213.86" y2="338.00" stroke="#111" stroke-width="0.6"/>
<line x1="214.68" y1="336.40" x2="214.68" y2="338.00" stroke="#111" stroke-width="0.6"/>
<line x1="215.41" y1="336.40" x2="215.41" y2="338.00" stroke="#111" stroke-width="0.6"/>
<line x1="220.33" y1="336.40" x2="220.33" y2="338.00" stroke="#111" stroke-width="0.6"/>
<line x1="222.82" y1="336.40" x2="222.82" y2="338.00" stroke="#111" stroke-width="0.6"/>
<line x1="224.59" y1="336.40" x2="224.59" y2="338.00" stroke="#111" stroke-width="0.6"/>
<line x1="225.97" y1="336.40" x2="225.97" y2="338.00" stroke="#111" stroke-width="0.6"/>
<line x1="227.09" y1="336.40" x2="227.09" y2="338.00" stroke="#111" stroke-width="0.6"/>
<line x1="228.04" y1="336.40" x2="228.04" y2="338.00" stroke="#111" stroke-width="0.6"/>
<line x1="228.86" y1="336.40" x2="228.86" y2="338.00" stroke="#111" stroke-width="0.6"/>
<line x1="229.59" y1="336.40" x2="229.59" y2="338.00" stroke="#111" stroke-width="0.6"/>
<line x1="171.60" y1="336.40" x2="171.60" y2="338.00" stroke="#111" stroke-width="0.6"/>
<line x1="169.40" y1="336.40" x2="169.40" y2="338.00" stroke="#111" stroke-width="0.6"/>
<line x1="167.20" y1="336.40" x2="167.20" y2="338.00" stroke="#111" stroke-width="0.6"/>
<text x="173.20" y="347.60" font-size="6.5" text-anchor="start" font-weight="normal" fill="#111" >0</text>
<text x="181.30" y="347.60" font-size="6.5" fill="#111">10<tspan font-size="4.42" dy="-2.93">2</tspan></text>
<text x="196.30" y="347.60" font-size="6.5" fill="#111">10<tspan font-size="4.42" dy="-2.93">3</tspan></text>
<text x="210.90" y="347.60" font-size="6.5" fill="#111">10<tspan font-size="4.42" dy="-2.93">4</tspan></text>
<text x="224.70" y="347.60" font-size="6.5" fill="#111">10<tspan font-size="4.42" dy="-2.93">5</tspan></text>
<line x1="278.81" y1="336.40" x2="278.81" y2="339.40" stroke="#111" stroke-width="0.9"/>
<line x1="292.73" y1="336.40" x2="292.73" y2="339.40" stroke="#111" stroke-width="0.9"/>
<line x1="306.93" y1="336.40" x2="306.93" y2="339.40" stroke="#111" stroke-width="0.9"/>
<line x1="321.13" y1="336.40" x2="321.13" y2="339.40" stroke="#111" stroke-width="0.9"/>
<line x1="335.33" y1="336.40" x2="335.33" y2="339.40" stroke="#111" stroke-width="0.9"/>
<line x1="283.00" y1="336.40" x2="283.00" y2="338.00" stroke="#111" stroke-width="0.6"/>
<line x1="285.45" y1="336.40" x2="285.45" y2="338.00" stroke="#111" stroke-width="0.6"/>
<line x1="287.19" y1="336.40" x2="287.19" y2="338.00" stroke="#111" stroke-width="0.6"/>
<line x1="288.54" y1="336.40" x2="288.54" y2="338.00" stroke="#111" stroke-width="0.6"/>
<line x1="289.64" y1="336.40" x2="289.64" y2="338.00" stroke="#111" stroke-width="0.6"/>
<line x1="290.57" y1="336.40" x2="290.57" y2="338.00" stroke="#111" stroke-width="0.6"/>
<line x1="291.38" y1="336.40" x2="291.38" y2="338.00" stroke="#111" stroke-width="0.6"/>
<line x1="292.09" y1="336.40" x2="292.09" y2="338.00" stroke="#111" stroke-width="0.6"/>
<line x1="297.00" y1="336.40" x2="297.00" y2="338.00" stroke="#111" stroke-width="0.6"/>
<line x1="299.51" y1="336.40" x2="299.51" y2="338.00" stroke="#111" stroke-width="0.6"/>
<line x1="301.28" y1="336.40" x2="301.28" y2="338.00" stroke="#111" stroke-width="0.6"/>
<line x1="302.66" y1="336.40" x2="302.66" y2="338.00" stroke="#111" stroke-width="0.6"/>
<line x1="303.78" y1="336.40" x2="303.78" y2="338.00" stroke="#111" stroke-width="0.6"/>
<line x1="304.73" y1="336.40" x2="304.73" y2="338.00" stroke="#111" stroke-width="0.6"/>
<line x1="305.55" y1="336.40" x2="305.55" y2="338.00" stroke="#111" stroke-width="0.6"/>
<line x1="306.28" y1="336.40" x2="306.28" y2="338.00" stroke="#111" stroke-width="0.6"/>
<line x1="311.20" y1="336.40" x2="311.20" y2="338.00" stroke="#111" stroke-width="0.6"/>
<line x1="313.71" y1="336.40" x2="313.71" y2="338.00" stroke="#111" stroke-width="0.6"/>
<line x1="315.48" y1="336.40" x2="315.48" y2="338.00" stroke="#111" stroke-width="0.6"/>
<line x1="316.86" y1="336.40" x2="316.86" y2="338.00" stroke="#111" stroke-width="0.6"/>
<line x1="317.98" y1="336.40" x2="317.98" y2="338.00" stroke="#111" stroke-width="0.6"/>
<line x1="318.93" y1="336.40" x2="318.93" y2="338.00" stroke="#111" stroke-width="0.6"/>
<line x1="319.75" y1="336.40" x2="319.75" y2="338.00" stroke="#111" stroke-width="0.6"/>
<line x1="320.48" y1="336.40" x2="320.48" y2="338.00" stroke="#111" stroke-width="0.6"/>
<line x1="325.40" y1="336.40" x2="325.40" y2="338.00" stroke="#111" stroke-width="0.6"/>
<line x1="327.91" y1="336.40" x2="327.91" y2="338.00" stroke="#111" stroke-width="0.6"/>
<line x1="329.68" y1="336.40" x2="329.68" y2="338.00" stroke="#111" stroke-width="0.6"/>
<line x1="331.06" y1="336.40" x2="331.06" y2="338.00" stroke="#111" stroke-width="0.6"/>
<line x1="332.18" y1="336.40" x2="332.18" y2="338.00" stroke="#111" stroke-width="0.6"/>
<line x1="333.13" y1="336.40" x2="333.13" y2="338.00" stroke="#111" stroke-width="0.6"/>
<line x1="333.95" y1="336.40" x2="333.95" y2="338.00" stroke="#111" stroke-width="0.6"/>
<line x1="334.68" y1="336.40" x2="334.68" y2="338.00" stroke="#111" stroke-width="0.6"/>
<line x1="276.61" y1="336.40" x2="276.61" y2="338.00" stroke="#111" stroke-width="0.6"/>
<line x1="274.41" y1="336.40" x2="274.41" y2="338.00" stroke="#111" stroke-width="0.6"/>
<line x1="272.21" y1="336.40" x2="272.21" y2="338.00" stroke="#111" stroke-width="0.6"/>
<text x="278.20" y="347.60" font-size="6.5" text-anchor="start" font-weight="normal" fill="#111" >0</text>
<text x="286.30" y="347.60" font-size="6.5" fill="#111">10<tspan font-size="4.42" dy="-2.93">2</tspan></text>
<text x="301.30" y="347.60" font-size="6.5" fill="#111">10<tspan font-size="4.42" dy="-2.93">3</tspan></text>
<text x="315.90" y="347.60" font-size="6.5" fill="#111">10<tspan font-size="4.42" dy="-2.93">4</tspan></text>
<text x="329.70" y="347.60" font-size="6.5" fill="#111">10<tspan font-size="4.42" dy="-2.93">5</tspan></text>
<line x1="68.84" y1="509.10" x2="68.84" y2="512.10" stroke="#111" stroke-width="0.9"/>
<line x1="82.80" y1="509.10" x2="82.80" y2="512.10" stroke="#111" stroke-width="0.9"/>
<line x1="97.04" y1="509.10" x2="97.04" y2="512.10" stroke="#111" stroke-width="0.9"/>
<line x1="111.28" y1="509.10" x2="111.28" y2="512.10" stroke="#111" stroke-width="0.9"/>
<line x1="125.52" y1="509.10" x2="125.52" y2="512.10" stroke="#111" stroke-width="0.9"/>
<line x1="73.04" y1="509.10" x2="73.04" y2="510.70" stroke="#111" stroke-width="0.6"/>
<line x1="75.50" y1="509.10" x2="75.50" y2="510.70" stroke="#111" stroke-width="0.6"/>
<line x1="77.24" y1="509.10" x2="77.24" y2="510.70" stroke="#111" stroke-width="0.6"/>
<line x1="78.60" y1="509.10" x2="78.60" y2="510.70" stroke="#111" stroke-width="0.6"/>
<line x1="79.70" y1="509.10" x2="79.70" y2="510.70" stroke="#111" stroke-width="0.6"/>
<line x1="80.63" y1="509.10" x2="80.63" y2="510.70" stroke="#111" stroke-width="0.6"/>
<line x1="81.44" y1="509.10" x2="81.44" y2="510.70" stroke="#111" stroke-width="0.6"/>
<line x1="82.16" y1="509.10" x2="82.16" y2="510.70" stroke="#111" stroke-width="0.6"/>
<line x1="87.08" y1="509.10" x2="87.08" y2="510.70" stroke="#111" stroke-width="0.6"/>
<line x1="89.59" y1="509.10" x2="89.59" y2="510.70" stroke="#111" stroke-width="0.6"/>
<line x1="91.37" y1="509.10" x2="91.37" y2="510.70" stroke="#111" stroke-width="0.6"/>
<line x1="92.75" y1="509.10" x2="92.75" y2="510.70" stroke="#111" stroke-width="0.6"/>
<line x1="93.88" y1="509.10" x2="93.88" y2="510.70" stroke="#111" stroke-width="0.6"/>
<line x1="94.83" y1="509.10" x2="94.83" y2="510.70" stroke="#111" stroke-width="0.6"/>
<line x1="95.66" y1="509.10" x2="95.66" y2="510.70" stroke="#111" stroke-width="0.6"/>
<line x1="96.38" y1="509.10" x2="96.38" y2="510.70" stroke="#111" stroke-width="0.6"/>
<line x1="101.32" y1="509.10" x2="101.32" y2="510.70" stroke="#111" stroke-width="0.6"/>
<line x1="103.83" y1="509.10" x2="103.83" y2="510.70" stroke="#111" stroke-width="0.6"/>
<line x1="105.61" y1="509.10" x2="105.61" y2="510.70" stroke="#111" stroke-width="0.6"/>
<line x1="106.99" y1="509.10" x2="106.99" y2="510.70" stroke="#111" stroke-width="0.6"/>
<line x1="108.12" y1="509.10" x2="108.12" y2="510.70" stroke="#111" stroke-width="0.6"/>
<line x1="109.07" y1="509.10" x2="109.07" y2="510.70" stroke="#111" stroke-width="0.6"/>
<line x1="109.90" y1="509.10" x2="109.90" y2="510.70" stroke="#111" stroke-width="0.6"/>
<line x1="110.62" y1="509.10" x2="110.62" y2="510.70" stroke="#111" stroke-width="0.6"/>
<line x1="115.56" y1="509.10" x2="115.56" y2="510.70" stroke="#111" stroke-width="0.6"/>
<line x1="118.07" y1="509.10" x2="118.07" y2="510.70" stroke="#111" stroke-width="0.6"/>
<line x1="119.85" y1="509.10" x2="119.85" y2="510.70" stroke="#111" stroke-width="0.6"/>
<line x1="121.23" y1="509.10" x2="121.23" y2="510.70" stroke="#111" stroke-width="0.6"/>
<line x1="122.36" y1="509.10" x2="122.36" y2="510.70" stroke="#111" stroke-width="0.6"/>
<line x1="123.31" y1="509.10" x2="123.31" y2="510.70" stroke="#111" stroke-width="0.6"/>
<line x1="124.14" y1="509.10" x2="124.14" y2="510.70" stroke="#111" stroke-width="0.6"/>
<line x1="124.86" y1="509.10" x2="124.86" y2="510.70" stroke="#111" stroke-width="0.6"/>
<line x1="66.64" y1="509.10" x2="66.64" y2="510.70" stroke="#111" stroke-width="0.6"/>
<line x1="64.44" y1="509.10" x2="64.44" y2="510.70" stroke="#111" stroke-width="0.6"/>
<line x1="62.24" y1="509.10" x2="62.24" y2="510.70" stroke="#111" stroke-width="0.6"/>
<text x="68.20" y="521.30" font-size="6.5" text-anchor="start" font-weight="normal" fill="#111" >0</text>
<text x="76.30" y="521.30" font-size="6.5" fill="#111">10<tspan font-size="4.42" dy="-2.93">2</tspan></text>
<text x="91.30" y="521.30" font-size="6.5" fill="#111">10<tspan font-size="4.42" dy="-2.93">3</tspan></text>
<text x="105.90" y="521.30" font-size="6.5" fill="#111">10<tspan font-size="4.42" dy="-2.93">4</tspan></text>
<text x="119.70" y="521.30" font-size="6.5" fill="#111">10<tspan font-size="4.42" dy="-2.93">5</tspan></text>
<line x1="176.90" y1="509.10" x2="176.90" y2="512.10" stroke="#111" stroke-width="0.9"/>
<line x1="190.80" y1="509.10" x2="190.80" y2="512.10" stroke="#111" stroke-width="0.9"/>
<line x1="204.98" y1="509.10" x2="204.98" y2="512.10" stroke="#111" stroke-width="0.9"/>
<line x1="219.16" y1="509.10" x2="219.16" y2="512.10" stroke="#111" stroke-width="0.9"/>
<line x1="233.34" y1="509.10" x2="233.34" y2="512.10" stroke="#111" stroke-width="0.9"/>
<line x1="181.08" y1="509.10" x2="181.08" y2="510.70" stroke="#111" stroke-width="0.6"/>
<line x1="183.53" y1="509.10" x2="183.53" y2="510.70" stroke="#111" stroke-width="0.6"/>
<line x1="185.27" y1="509.10" x2="185.27" y2="510.70" stroke="#111" stroke-width="0.6"/>
<line x1="186.61" y1="509.10" x2="186.61" y2="510.70" stroke="#111" stroke-width="0.6"/>
<line x1="187.71" y1="509.10" x2="187.71" y2="510.70" stroke="#111" stroke-width="0.6"/>
<line x1="188.64" y1="509.10" x2="188.64" y2="510.70" stroke="#111" stroke-width="0.6"/>
<line x1="189.45" y1="509.10" x2="189.45" y2="510.70" stroke="#111" stroke-width="0.6"/>
<line x1="190.16" y1="509.10" x2="190.16" y2="510.70" stroke="#111" stroke-width="0.6"/>
<line x1="195.07" y1="509.10" x2="195.07" y2="510.70" stroke="#111" stroke-width="0.6"/>
<line x1="197.56" y1="509.10" x2="197.56" y2="510.70" stroke="#111" stroke-width="0.6"/>
<line x1="199.33" y1="509.10" x2="199.33" y2="510.70" stroke="#111" stroke-width="0.6"/>
<line x1="200.71" y1="509.10" x2="200.71" y2="510.70" stroke="#111" stroke-width="0.6"/>
<line x1="201.83" y1="509.10" x2="201.83" y2="510.70" stroke="#111" stroke-width="0.6"/>
<line x1="202.78" y1="509.10" x2="202.78" y2="510.70" stroke="#111" stroke-width="0.6"/>
<line x1="203.60" y1="509.10" x2="203.60" y2="510.70" stroke="#111" stroke-width="0.6"/>
<line x1="204.33" y1="509.10" x2="204.33" y2="510.70" stroke="#111" stroke-width="0.6"/>
<line x1="209.25" y1="509.10" x2="209.25" y2="510.70" stroke="#111" stroke-width="0.6"/>
<line x1="211.74" y1="509.10" x2="211.74" y2="510.70" stroke="#111" stroke-width="0.6"/>
<line x1="213.51" y1="509.10" x2="213.51" y2="510.70" stroke="#111" stroke-width="0.6"/>
<line x1="214.89" y1="509.10" x2="214.89" y2="510.70" stroke="#111" stroke-width="0.6"/>
<line x1="216.01" y1="509.10" x2="216.01" y2="510.70" stroke="#111" stroke-width="0.6"/>
<line x1="216.96" y1="509.10" x2="216.96" y2="510.70" stroke="#111" stroke-width="0.6"/>
<line x1="217.78" y1="509.10" x2="217.78" y2="510.70" stroke="#111" stroke-width="0.6"/>
<line x1="218.51" y1="509.10" x2="218.51" y2="510.70" stroke="#111" stroke-width="0.6"/>
<line x1="223.43" y1="509.10" x2="223.43" y2="510.70" stroke="#111" stroke-width="0.6"/>
<line x1="225.92" y1="509.10" x2="225.92" y2="510.70" stroke="#111" stroke-width="0.6"/>
<line x1="227.69" y1="509.10" x2="227.69" y2="510.70" stroke="#111" stroke-width="0.6"/>
<line x1="229.07" y1="509.10" x2="229.07" y2="510.70" stroke="#111" stroke-width="0.6"/>
<line x1="230.19" y1="509.10" x2="230.19" y2="510.70" stroke="#111" stroke-width="0.6"/>
<line x1="231.14" y1="509.10" x2="231.14" y2="510.70" stroke="#111" stroke-width="0.6"/>
<line x1="231.96" y1="509.10" x2="231.96" y2="510.70" stroke="#111" stroke-width="0.6"/>
<line x1="232.69" y1="509.10" x2="232.69" y2="510.70" stroke="#111" stroke-width="0.6"/>
<line x1="174.70" y1="509.10" x2="174.70" y2="510.70" stroke="#111" stroke-width="0.6"/>
<line x1="172.50" y1="509.10" x2="172.50" y2="510.70" stroke="#111" stroke-width="0.6"/>
<line x1="170.30" y1="509.10" x2="170.30" y2="510.70" stroke="#111" stroke-width="0.6"/>
<text x="176.30" y="521.30" font-size="6.5" text-anchor="start" font-weight="normal" fill="#111" >0</text>
<text x="184.40" y="521.30" font-size="6.5" fill="#111">10<tspan font-size="4.42" dy="-2.93">2</tspan></text>
<text x="199.40" y="521.30" font-size="6.5" fill="#111">10<tspan font-size="4.42" dy="-2.93">3</tspan></text>
<text x="214.00" y="521.30" font-size="6.5" fill="#111">10<tspan font-size="4.42" dy="-2.93">4</tspan></text>
<text x="227.80" y="521.30" font-size="6.5" fill="#111">10<tspan font-size="4.42" dy="-2.93">5</tspan></text>
<line x1="278.75" y1="509.10" x2="278.75" y2="512.10" stroke="#111" stroke-width="0.9"/>
<line x1="292.56" y1="509.10" x2="292.56" y2="512.10" stroke="#111" stroke-width="0.9"/>
<line x1="306.67" y1="509.10" x2="306.67" y2="512.10" stroke="#111" stroke-width="0.9"/>
<line x1="320.76" y1="509.10" x2="320.76" y2="512.10" stroke="#111" stroke-width="0.9"/>
<line x1="334.87" y1="509.10" x2="334.87" y2="512.10" stroke="#111" stroke-width="0.9"/>
<line x1="282.91" y1="509.10" x2="282.91" y2="510.70" stroke="#111" stroke-width="0.6"/>
<line x1="285.34" y1="509.10" x2="285.34" y2="510.70" stroke="#111" stroke-width="0.6"/>
<line x1="287.07" y1="509.10" x2="287.07" y2="510.70" stroke="#111" stroke-width="0.6"/>
<line x1="288.41" y1="509.10" x2="288.41" y2="510.70" stroke="#111" stroke-width="0.6"/>
<line x1="289.50" y1="509.10" x2="289.50" y2="510.70" stroke="#111" stroke-width="0.6"/>
<line x1="290.42" y1="509.10" x2="290.42" y2="510.70" stroke="#111" stroke-width="0.6"/>
<line x1="291.23" y1="509.10" x2="291.23" y2="510.70" stroke="#111" stroke-width="0.6"/>
<line x1="291.93" y1="509.10" x2="291.93" y2="510.70" stroke="#111" stroke-width="0.6"/>
<line x1="296.81" y1="509.10" x2="296.81" y2="510.70" stroke="#111" stroke-width="0.6"/>
<line x1="299.29" y1="509.10" x2="299.29" y2="510.70" stroke="#111" stroke-width="0.6"/>
<line x1="301.05" y1="509.10" x2="301.05" y2="510.70" stroke="#111" stroke-width="0.6"/>
<line x1="302.42" y1="509.10" x2="302.42" y2="510.70" stroke="#111" stroke-width="0.6"/>
<line x1="303.54" y1="509.10" x2="303.54" y2="510.70" stroke="#111" stroke-width="0.6"/>
<line x1="304.48" y1="509.10" x2="304.48" y2="510.70" stroke="#111" stroke-width="0.6"/>
<line x1="305.30" y1="509.10" x2="305.30" y2="510.70" stroke="#111" stroke-width="0.6"/>
<line x1="306.02" y1="509.10" x2="306.02" y2="510.70" stroke="#111" stroke-width="0.6"/>
<line x1="310.91" y1="509.10" x2="310.91" y2="510.70" stroke="#111" stroke-width="0.6"/>
<line x1="313.39" y1="509.10" x2="313.39" y2="510.70" stroke="#111" stroke-width="0.6"/>
<line x1="315.15" y1="509.10" x2="315.15" y2="510.70" stroke="#111" stroke-width="0.6"/>
<line x1="316.52" y1="509.10" x2="316.52" y2="510.70" stroke="#111" stroke-width="0.6"/>
<line x1="317.64" y1="509.10" x2="317.64" y2="510.70" stroke="#111" stroke-width="0.6"/>
<line x1="318.58" y1="509.10" x2="318.58" y2="510.70" stroke="#111" stroke-width="0.6"/>
<line x1="319.40" y1="509.10" x2="319.40" y2="510.70" stroke="#111" stroke-width="0.6"/>
<line x1="320.12" y1="509.10" x2="320.12" y2="510.70" stroke="#111" stroke-width="0.6"/>
<line x1="325.01" y1="509.10" x2="325.01" y2="510.70" stroke="#111" stroke-width="0.6"/>
<line x1="327.49" y1="509.10" x2="327.49" y2="510.70" stroke="#111" stroke-width="0.6"/>
<line x1="329.25" y1="509.10" x2="329.25" y2="510.70" stroke="#111" stroke-width="0.6"/>
<line x1="330.62" y1="509.10" x2="330.62" y2="510.70" stroke="#111" stroke-width="0.6"/>
<line x1="331.74" y1="509.10" x2="331.74" y2="510.70" stroke="#111" stroke-width="0.6"/>
<line x1="332.68" y1="509.10" x2="332.68" y2="510.70" stroke="#111" stroke-width="0.6"/>
<line x1="333.50" y1="509.10" x2="333.50" y2="510.70" stroke="#111" stroke-width="0.6"/>
<line x1="334.22" y1="509.10" x2="334.22" y2="510.70" stroke="#111" stroke-width="0.6"/>
<line x1="276.55" y1="509.10" x2="276.55" y2="510.70" stroke="#111" stroke-width="0.6"/>
<line x1="274.35" y1="509.10" x2="274.35" y2="510.70" stroke="#111" stroke-width="0.6"/>
<line x1="272.15" y1="509.10" x2="272.15" y2="510.70" stroke="#111" stroke-width="0.6"/>
<text x="278.20" y="521.30" font-size="6.5" text-anchor="start" font-weight="normal" fill="#111" >0</text>
<text x="286.30" y="521.30" font-size="6.5" fill="#111">10<tspan font-size="4.42" dy="-2.93">2</tspan></text>
<text x="301.30" y="521.30" font-size="6.5" fill="#111">10<tspan font-size="4.42" dy="-2.93">3</tspan></text>
<text x="315.90" y="521.30" font-size="6.5" fill="#111">10<tspan font-size="4.42" dy="-2.93">4</tspan></text>
<text x="329.70" y="521.30" font-size="6.5" fill="#111">10<tspan font-size="4.42" dy="-2.93">5</tspan></text>
<line x1="59" y1="359.1" x2="166" y2="359.1" stroke="#555" stroke-width="1.4"/>
<path d="M163.9,355.7 L172.6,359.1 L163.9,362.5 L165.7,359.1 Z" fill="#111"/>
<text transform="translate(175.7,361.9) scale(0.595,1)" x="0" y="0" font-size="10.2" font-weight="bold" fill="#111" word-spacing="2.8" style="stroke-width:0.3px">Celltrace (CD8 T cells)</text>
<line x1="59" y1="531.9" x2="166" y2="531.9" stroke="#555" stroke-width="1.4"/>
<path d="M163.9,528.5 L172.6,531.9 L163.9,535.3 L165.7,531.9 Z" fill="#111"/>
<text transform="translate(175.7,535.1) scale(0.595,1)" x="0" y="0" font-size="10.2" font-weight="bold" fill="#111" word-spacing="2.8" style="stroke-width:0.3px">Celltrace (CD4 T cells)</text>
<rect x="400.60" y="298.00" width="9.60" height="52.20" fill="#cd8f82"/>
<rect x="416.60" y="309.00" width="9.60" height="41.20" fill="#cd8f82"/>
<rect x="432.90" y="292.70" width="9.50" height="57.50" fill="#cd8f82"/>
<rect x="448.80" y="293.20" width="9.90" height="57.00" fill="#cd8f82"/>
<rect x="465.10" y="293.20" width="9.60" height="57.00" fill="#cd8f82"/>
<line x1="405.40" y1="281.20" x2="405.40" y2="313.80" stroke="#2a2a2a" stroke-width="1.0"/>
<line x1="402.80" y1="281.20" x2="408.00" y2="281.20" stroke="#2a2a2a" stroke-width="1.0"/>
<line x1="402.80" y1="313.80" x2="408.00" y2="313.80" stroke="#2a2a2a" stroke-width="1.0"/>
<line x1="405.40" y1="350.20" x2="405.40" y2="352.40" stroke="#222" stroke-width="0.9"/>
<line x1="421.40" y1="293.50" x2="421.40" y2="323.40" stroke="#2a2a2a" stroke-width="1.0"/>
<line x1="418.80" y1="293.50" x2="424.00" y2="293.50" stroke="#2a2a2a" stroke-width="1.0"/>
<line x1="418.80" y1="323.40" x2="424.00" y2="323.40" stroke="#2a2a2a" stroke-width="1.0"/>
<line x1="421.40" y1="350.20" x2="421.40" y2="352.40" stroke="#222" stroke-width="0.9"/>
<line x1="437.65" y1="275.50" x2="437.65" y2="309.50" stroke="#2a2a2a" stroke-width="1.0"/>
<line x1="435.05" y1="275.50" x2="440.25" y2="275.50" stroke="#2a2a2a" stroke-width="1.0"/>
<line x1="435.05" y1="309.50" x2="440.25" y2="309.50" stroke="#2a2a2a" stroke-width="1.0"/>
<line x1="437.65" y1="350.20" x2="437.65" y2="352.40" stroke="#222" stroke-width="0.9"/>
<line x1="453.75" y1="278.80" x2="453.75" y2="307.10" stroke="#2a2a2a" stroke-width="1.0"/>
<line x1="451.15" y1="278.80" x2="456.35" y2="278.80" stroke="#2a2a2a" stroke-width="1.0"/>
<line x1="451.15" y1="307.10" x2="456.35" y2="307.10" stroke="#2a2a2a" stroke-width="1.0"/>
<line x1="453.75" y1="350.20" x2="453.75" y2="352.40" stroke="#222" stroke-width="0.9"/>
<line x1="469.90" y1="282.40" x2="469.90" y2="302.30" stroke="#2a2a2a" stroke-width="1.0"/>
<line x1="467.30" y1="282.40" x2="472.50" y2="282.40" stroke="#2a2a2a" stroke-width="1.0"/>
<line x1="467.30" y1="302.30" x2="472.50" y2="302.30" stroke="#2a2a2a" stroke-width="1.0"/>
<line x1="469.90" y1="350.20" x2="469.90" y2="352.40" stroke="#222" stroke-width="0.9"/>
<circle cx="405.40" cy="273.10" r="1.55" fill="#b0002a"/>
<circle cx="401.10" cy="288.00" r="1.55" fill="#b0002a"/>
<circle cx="405.40" cy="285.90" r="1.55" fill="#b0002a"/>
<circle cx="409.40" cy="288.00" r="1.55" fill="#b0002a"/>
<circle cx="405.40" cy="306.60" r="1.55" fill="#b0002a"/>
<circle cx="409.40" cy="305.50" r="1.55" fill="#b0002a"/>
<circle cx="405.40" cy="313.80" r="1.55" fill="#b0002a"/>
<circle cx="405.40" cy="319.90" r="1.55" fill="#b0002a"/>
<circle cx="421.40" cy="288.80" r="1.55" fill="#b0002a"/>
<circle cx="421.40" cy="292.00" r="1.55" fill="#b0002a"/>
<circle cx="421.40" cy="298.00" r="1.55" fill="#b0002a"/>
<circle cx="421.40" cy="306.80" r="1.55" fill="#b0002a"/>
<circle cx="421.40" cy="310.30" r="1.55" fill="#b0002a"/>
<circle cx="417.40" cy="320.70" r="1.55" fill="#b0002a"/>
<circle cx="425.40" cy="321.80" r="1.55" fill="#b0002a"/>
<circle cx="421.40" cy="329.00" r="1.55" fill="#b0002a"/>
<circle cx="437.30" cy="270.90" r="1.55" fill="#b0002a"/>
<circle cx="437.30" cy="276.80" r="1.55" fill="#b0002a"/>
<circle cx="433.30" cy="282.80" r="1.55" fill="#b0002a"/>
<circle cx="441.60" cy="281.20" r="1.55" fill="#b0002a"/>
<circle cx="437.30" cy="294.00" r="1.55" fill="#b0002a"/>
<circle cx="433.30" cy="306.30" r="1.55" fill="#b0002a"/>
<circle cx="441.60" cy="308.40" r="1.55" fill="#b0002a"/>
<circle cx="437.30" cy="317.80" r="1.55" fill="#b0002a"/>
<circle cx="453.90" cy="274.90" r="1.55" fill="#b0002a"/>
<circle cx="449.60" cy="279.60" r="1.55" fill="#b0002a"/>
<circle cx="457.90" cy="280.00" r="1.55" fill="#b0002a"/>
<circle cx="453.90" cy="290.00" r="1.55" fill="#b0002a"/>
<circle cx="453.90" cy="295.50" r="1.55" fill="#b0002a"/>
<circle cx="453.90" cy="302.30" r="1.55" fill="#b0002a"/>
<circle cx="449.60" cy="310.60" r="1.55" fill="#b0002a"/>
<circle cx="457.90" cy="310.50" r="1.55" fill="#b0002a"/>
<circle cx="469.90" cy="279.20" r="1.55" fill="#b0002a"/>
<circle cx="469.90" cy="284.80" r="1.55" fill="#b0002a"/>
<circle cx="465.90" cy="293.20" r="1.55" fill="#b0002a"/>
<circle cx="473.90" cy="291.60" r="1.55" fill="#b0002a"/>
<circle cx="473.90" cy="295.50" r="1.55" fill="#b0002a"/>
<circle cx="469.90" cy="309.50" r="1.55" fill="#b0002a"/>
<line x1="394.50" y1="252.20" x2="394.50" y2="350.85" stroke="#111" stroke-width="1.3"/>
<line x1="391.50" y1="254.80" x2="394.50" y2="254.80" stroke="#111" stroke-width="1"/>
<text x="388.60" y="257.90" font-size="8.6" text-anchor="end" font-weight="normal" fill="#111" >80</text>
<line x1="391.50" y1="278.70" x2="394.50" y2="278.70" stroke="#111" stroke-width="1"/>
<text x="388.60" y="281.80" font-size="8.6" text-anchor="end" font-weight="normal" fill="#111" >60</text>
<line x1="391.50" y1="302.50" x2="394.50" y2="302.50" stroke="#111" stroke-width="1"/>
<text x="388.60" y="305.60" font-size="8.6" text-anchor="end" font-weight="normal" fill="#111" >40</text>
<line x1="391.50" y1="326.30" x2="394.50" y2="326.30" stroke="#111" stroke-width="1"/>
<text x="388.60" y="329.40" font-size="8.6" text-anchor="end" font-weight="normal" fill="#111" >20</text>
<line x1="391.50" y1="350.20" x2="394.50" y2="350.20" stroke="#111" stroke-width="1"/>
<text x="388.60" y="353.30" font-size="8.6" text-anchor="end" font-weight="normal" fill="#111" >0</text>
<line x1="393.85" y1="350.20" x2="481.20" y2="350.20" stroke="#111" stroke-width="1.3"/>
<rect x="433.65" y="256.25" width="1.9" height="1.9" fill="#2a2a2a"/>
<rect x="436.75" y="256.25" width="1.9" height="1.9" fill="#2a2a2a"/>
<rect x="453.25" y="256.25" width="1.9" height="1.9" fill="#2a2a2a"/>
<rect x="456.55" y="256.25" width="1.9" height="1.9" fill="#2a2a2a"/>
<rect x="473.65" y="256.25" width="1.9" height="1.9" fill="#2a2a2a"/>
<text transform="translate(369.20,301.95) rotate(-90)" x="0" y="3.64" font-size="10.4" font-weight="normal" text-anchor="middle" fill="#111" style="stroke-width:0.3px" textLength="86.50" lengthAdjust="spacingAndGlyphs">% cellTrace<tspan font-size="7.0" dy="-3.6">dim</tspan><tspan dy="3.6"> CD8</tspan><tspan font-size="7.0" dx="0.8" dy="-3.6">+</tspan><tspan dy="3.6"> T cells</tspan></text>
<rect x="400.60" y="489.60" width="9.50" height="33.80" fill="#cd8f82"/>
<rect x="416.90" y="495.00" width="9.50" height="28.40" fill="#cd8f82"/>
<rect x="432.90" y="485.40" width="9.40" height="38.00" fill="#cd8f82"/>
<rect x="449.20" y="484.40" width="9.30" height="39.00" fill="#cd8f82"/>
<rect x="465.10" y="487.80" width="9.70" height="35.60" fill="#cd8f82"/>
<line x1="405.35" y1="470.30" x2="405.35" y2="507.80" stroke="#2a2a2a" stroke-width="1.0"/>
<line x1="402.75" y1="470.30" x2="407.95" y2="470.30" stroke="#2a2a2a" stroke-width="1.0"/>
<line x1="402.75" y1="507.80" x2="407.95" y2="507.80" stroke="#2a2a2a" stroke-width="1.0"/>
<line x1="405.35" y1="523.40" x2="405.35" y2="525.60" stroke="#222" stroke-width="0.9"/>
<line x1="421.65" y1="478.80" x2="421.65" y2="510.30" stroke="#2a2a2a" stroke-width="1.0"/>
<line x1="419.05" y1="478.80" x2="424.25" y2="478.80" stroke="#2a2a2a" stroke-width="1.0"/>
<line x1="419.05" y1="510.30" x2="424.25" y2="510.30" stroke="#2a2a2a" stroke-width="1.0"/>
<line x1="421.65" y1="523.40" x2="421.65" y2="525.60" stroke="#222" stroke-width="0.9"/>
<line x1="437.60" y1="467.40" x2="437.60" y2="502.60" stroke="#2a2a2a" stroke-width="1.0"/>
<line x1="435.00" y1="467.40" x2="440.20" y2="467.40" stroke="#2a2a2a" stroke-width="1.0"/>
<line x1="435.00" y1="502.60" x2="440.20" y2="502.60" stroke="#2a2a2a" stroke-width="1.0"/>
<line x1="437.60" y1="523.40" x2="437.60" y2="525.60" stroke="#222" stroke-width="0.9"/>
<line x1="453.85" y1="465.40" x2="453.85" y2="503.30" stroke="#2a2a2a" stroke-width="1.0"/>
<line x1="451.25" y1="465.40" x2="456.45" y2="465.40" stroke="#2a2a2a" stroke-width="1.0"/>
<line x1="451.25" y1="503.30" x2="456.45" y2="503.30" stroke="#2a2a2a" stroke-width="1.0"/>
<line x1="453.85" y1="523.40" x2="453.85" y2="525.60" stroke="#222" stroke-width="0.9"/>
<line x1="469.95" y1="467.70" x2="469.95" y2="506.30" stroke="#2a2a2a" stroke-width="1.0"/>
<line x1="467.35" y1="467.70" x2="472.55" y2="467.70" stroke="#2a2a2a" stroke-width="1.0"/>
<line x1="467.35" y1="506.30" x2="472.55" y2="506.30" stroke="#2a2a2a" stroke-width="1.0"/>
<line x1="469.95" y1="523.40" x2="469.95" y2="525.60" stroke="#222" stroke-width="0.9"/>
<circle cx="405.40" cy="454.80" r="1.55" fill="#b0002a"/>
<circle cx="405.40" cy="462.60" r="1.55" fill="#b0002a"/>
<circle cx="405.40" cy="468.40" r="1.55" fill="#b0002a"/>
<circle cx="405.40" cy="474.80" r="1.55" fill="#b0002a"/>
<circle cx="401.40" cy="491.50" r="1.55" fill="#b0002a"/>
<circle cx="409.30" cy="494.00" r="1.55" fill="#b0002a"/>
<circle cx="401.40" cy="497.70" r="1.55" fill="#b0002a"/>
<circle cx="409.30" cy="497.70" r="1.55" fill="#b0002a"/>
<circle cx="405.40" cy="502.90" r="1.55" fill="#b0002a"/>
<circle cx="401.40" cy="506.10" r="1.55" fill="#b0002a"/>
<circle cx="409.30" cy="506.90" r="1.55" fill="#b0002a"/>
<circle cx="401.70" cy="509.20" r="1.55" fill="#b0002a"/>
<circle cx="421.60" cy="462.90" r="1.55" fill="#b0002a"/>
<circle cx="421.60" cy="473.70" r="1.55" fill="#b0002a"/>
<circle cx="421.60" cy="477.30" r="1.55" fill="#b0002a"/>
<circle cx="421.60" cy="488.80" r="1.55" fill="#b0002a"/>
<circle cx="421.60" cy="495.00" r="1.55" fill="#b0002a"/>
<circle cx="421.60" cy="499.20" r="1.55" fill="#b0002a"/>
<circle cx="417.60" cy="500.90" r="1.55" fill="#b0002a"/>
<circle cx="425.60" cy="500.90" r="1.55" fill="#b0002a"/>
<circle cx="419.40" cy="505.40" r="1.55" fill="#b0002a"/>
<circle cx="423.80" cy="505.10" r="1.55" fill="#b0002a"/>
<circle cx="419.40" cy="512.80" r="1.55" fill="#b0002a"/>
<circle cx="423.60" cy="511.30" r="1.55" fill="#b0002a"/>
<circle cx="437.60" cy="447.10" r="1.55" fill="#b0002a"/>
<circle cx="433.80" cy="469.90" r="1.55" fill="#b0002a"/>
<circle cx="437.60" cy="471.50" r="1.55" fill="#b0002a"/>
<circle cx="437.60" cy="481.40" r="1.55" fill="#b0002a"/>
<circle cx="433.80" cy="492.50" r="1.55" fill="#b0002a"/>
<circle cx="437.60" cy="490.00" r="1.55" fill="#b0002a"/>
<circle cx="441.60" cy="490.30" r="1.55" fill="#b0002a"/>
<circle cx="437.60" cy="498.40" r="1.55" fill="#b0002a"/>
<circle cx="433.80" cy="504.10" r="1.55" fill="#b0002a"/>
<circle cx="437.60" cy="502.90" r="1.55" fill="#b0002a"/>
<circle cx="441.60" cy="502.90" r="1.55" fill="#b0002a"/>
<circle cx="453.80" cy="450.40" r="1.55" fill="#b0002a"/>
<circle cx="449.60" cy="462.50" r="1.55" fill="#b0002a"/>
<circle cx="457.80" cy="461.20" r="1.55" fill="#b0002a"/>
<circle cx="453.80" cy="473.30" r="1.55" fill="#b0002a"/>
<circle cx="453.80" cy="479.20" r="1.55" fill="#b0002a"/>
<circle cx="453.80" cy="486.60" r="1.55" fill="#b0002a"/>
<circle cx="449.90" cy="493.00" r="1.55" fill="#b0002a"/>
<circle cx="457.80" cy="492.50" r="1.55" fill="#b0002a"/>
<circle cx="453.80" cy="497.00" r="1.55" fill="#b0002a"/>
<circle cx="453.80" cy="500.70" r="1.55" fill="#b0002a"/>
<circle cx="453.80" cy="504.80" r="1.55" fill="#b0002a"/>
<circle cx="453.80" cy="508.30" r="1.55" fill="#b0002a"/>
<circle cx="470.00" cy="457.80" r="1.55" fill="#b0002a"/>
<circle cx="470.00" cy="462.50" r="1.55" fill="#b0002a"/>
<circle cx="470.00" cy="470.80" r="1.55" fill="#b0002a"/>
<circle cx="470.00" cy="484.80" r="1.55" fill="#b0002a"/>
<circle cx="470.00" cy="491.00" r="1.55" fill="#b0002a"/>
<circle cx="470.00" cy="500.70" r="1.55" fill="#b0002a"/>
<circle cx="470.00" cy="504.80" r="1.55" fill="#b0002a"/>
<circle cx="466.20" cy="506.90" r="1.55" fill="#b0002a"/>
<circle cx="474.00" cy="506.60" r="1.55" fill="#b0002a"/>
<line x1="394.50" y1="425.50" x2="394.50" y2="524.05" stroke="#111" stroke-width="1.3"/>
<line x1="391.50" y1="428.10" x2="394.50" y2="428.10" stroke="#111" stroke-width="1"/>
<text x="388.60" y="431.20" font-size="8.6" text-anchor="end" font-weight="normal" fill="#111" >100</text>
<line x1="391.50" y1="447.10" x2="394.50" y2="447.10" stroke="#111" stroke-width="1"/>
<text x="388.60" y="450.20" font-size="8.6" text-anchor="end" font-weight="normal" fill="#111" >80</text>
<line x1="391.50" y1="466.20" x2="394.50" y2="466.20" stroke="#111" stroke-width="1"/>
<text x="388.60" y="469.30" font-size="8.6" text-anchor="end" font-weight="normal" fill="#111" >60</text>
<line x1="391.50" y1="485.20" x2="394.50" y2="485.20" stroke="#111" stroke-width="1"/>
<text x="388.60" y="488.30" font-size="8.6" text-anchor="end" font-weight="normal" fill="#111" >40</text>
<line x1="391.50" y1="504.30" x2="394.50" y2="504.30" stroke="#111" stroke-width="1"/>
<text x="388.60" y="507.40" font-size="8.6" text-anchor="end" font-weight="normal" fill="#111" >20</text>
<line x1="391.50" y1="523.40" x2="394.50" y2="523.40" stroke="#111" stroke-width="1"/>
<text x="388.60" y="526.50" font-size="8.6" text-anchor="end" font-weight="normal" fill="#111" >0</text>
<line x1="393.85" y1="523.40" x2="481.10" y2="523.40" stroke="#111" stroke-width="1.3"/>
<rect x="423.05" y="433.25" width="1.9" height="1.9" fill="#2a2a2a"/>
<rect x="426.05" y="433.25" width="1.9" height="1.9" fill="#2a2a2a"/>
<rect x="444.85" y="433.25" width="1.9" height="1.9" fill="#2a2a2a"/>
<rect x="447.85" y="433.25" width="1.9" height="1.9" fill="#2a2a2a"/>
<rect x="450.75" y="433.25" width="1.9" height="1.9" fill="#2a2a2a"/>
<rect x="466.25" y="433.25" width="1.9" height="1.9" fill="#2a2a2a"/>
<text transform="translate(364.20,474.50) rotate(-90)" x="0" y="3.64" font-size="10.4" font-weight="normal" text-anchor="middle" fill="#111" style="stroke-width:0.3px" textLength="85.00" lengthAdjust="spacingAndGlyphs">% cellTrace<tspan font-size="7.0" dy="-3.6">dim</tspan><tspan dy="3.6"> CD4</tspan><tspan font-size="7.0" dx="0.8" dy="-3.6">+</tspan><tspan dy="3.6"> T cells</tspan></text>
<text transform="translate(408.20,359.80) rotate(-45)" x="0" y="0" font-size="8.1" text-anchor="end" fill="#111">No Ab</text>
<text transform="translate(424.20,359.80) rotate(-45)" x="0" y="0" font-size="8.1" text-anchor="end" fill="#111">Ctrl IgG1</text>
<text transform="translate(440.50,359.80) rotate(-45)" x="0" y="0" font-size="8.1" text-anchor="end" fill="#111">anti-PD1</text>
<text transform="translate(456.60,359.80) rotate(-45)" x="0" y="0" font-size="8.1" text-anchor="end" fill="#111">anti-TIM3</text>
<text transform="translate(472.70,359.80) rotate(-45)" x="0" y="0" font-size="8.1" text-anchor="end" fill="#111">anti-PD1 + anti-TIM3</text>
<text transform="translate(408.20,533.10) rotate(-45)" x="0" y="0" font-size="8.1" text-anchor="end" fill="#111">No Ab</text>
<text transform="translate(424.40,533.10) rotate(-45)" x="0" y="0" font-size="8.1" text-anchor="end" fill="#111">Ctrl IgG1</text>
<text transform="translate(440.40,533.10) rotate(-45)" x="0" y="0" font-size="8.1" text-anchor="end" fill="#111">anti-PD1</text>
<text transform="translate(456.60,533.10) rotate(-45)" x="0" y="0" font-size="8.1" text-anchor="end" fill="#111">anti-TIM3</text>
<text transform="translate(472.80,533.10) rotate(-45)" x="0" y="0" font-size="8.1" text-anchor="end" fill="#111">anti-PD1 + anti-TIM3</text>
</svg>
</body></html>
